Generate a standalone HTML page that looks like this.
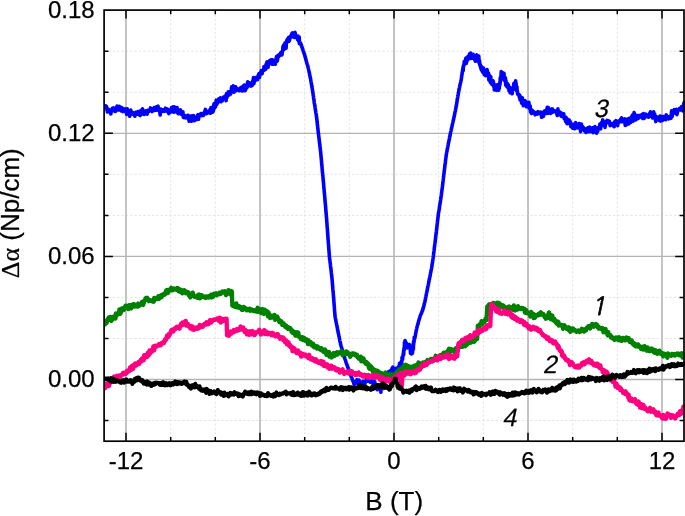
<!DOCTYPE html>
<html><head><meta charset="utf-8"><title>chart</title>
<style>html,body{margin:0;padding:0;background:#fff}body{width:685px;height:516px;overflow:hidden}svg{display:block}</style></head>
<body>
<svg width="685" height="516" viewBox="0 0 685 516">
<rect width="685" height="516" fill="#fff"/>
<path d="M170.7,10.1 V441.2 M215.3,10.1 V441.2 M304.7,10.1 V441.2 M349.3,10.1 V441.2 M438.7,10.1 V441.2 M483.3,10.1 V441.2 M572.7,10.1 V441.2 M617.3,10.1 V441.2 M104.1,420.5 H684.0 M104.1,338.5 H684.0 M104.1,297.4 H684.0 M104.1,215.4 H684.0 M104.1,174.3 H684.0 M104.1,92.3 H684.0 M104.1,51.2 H684.0" stroke="#dadada" stroke-width="0.75" stroke-dasharray="2.2 2.15" fill="none"/>
<path d="M126.0,10.1 V441.2 M260.0,10.1 V441.2 M394.0,10.1 V441.2 M528.0,10.1 V441.2 M662.0,10.1 V441.2" stroke="#c2c2c2" stroke-width="1.9" fill="none"/>
<path d="M104.1,379.5 H684.0 M104.1,256.4 H684.0 M104.1,133.3 H684.0" stroke="#b4b4b4" stroke-width="1.3" fill="none"/>
<clipPath id="c"><rect x="104" y="10" width="581" height="431"/></clipPath>
<g clip-path="url(#c)" fill="none" stroke-linejoin="round" stroke-linecap="round">
<path d="M104.4,106.4 L104.8,107.4 L105.2,106.7 L105.7,105.9 L106.1,107.2 L106.5,106.6 L106.9,109.1 L107.4,112.0 L107.8,108.8 L108.2,109.0 L108.6,111.6 L109.0,111.8 L109.5,111.7 L109.9,110.1 L110.3,112.3 L110.8,113.9 L111.4,109.7 L111.9,111.2 L112.5,108.2 L113.1,109.2 L113.6,107.9 L114.2,110.9 L114.8,108.7 L115.3,111.5 L115.9,111.1 L116.5,110.2 L117.0,106.0 L117.6,109.0 L118.1,109.8 L118.7,109.9 L119.2,106.4 L119.8,108.3 L120.4,107.1 L120.9,107.2 L121.4,111.0 L122.0,107.7 L122.5,109.5 L123.0,111.6 L123.5,109.0 L124.0,110.2 L124.6,110.9 L125.1,111.1 L125.6,108.9 L126.1,111.8 L126.7,114.4 L127.3,108.9 L127.9,113.7 L128.5,112.3 L129.1,110.9 L129.7,116.2 L130.3,113.9 L130.8,110.1 L131.4,112.7 L132.0,113.8 L132.6,112.5 L133.2,114.3 L133.8,113.0 L134.4,114.5 L134.9,116.2 L135.5,112.2 L136.1,114.0 L136.7,112.9 L137.3,114.2 L137.9,111.6 L138.4,112.7 L139.0,113.2 L139.6,115.2 L140.2,115.5 L140.7,110.5 L141.3,111.4 L141.9,114.0 L142.5,108.7 L143.1,111.5 L143.6,112.1 L144.2,114.5 L144.8,113.3 L145.4,111.1 L145.9,110.9 L146.5,111.0 L147.1,114.3 L147.7,110.3 L148.3,110.4 L148.8,111.5 L149.4,110.4 L149.9,110.0 L150.5,107.9 L151.0,109.8 L151.5,108.7 L152.1,111.6 L152.6,110.3 L153.2,108.7 L153.7,109.8 L154.2,107.6 L154.8,110.5 L155.3,108.7 L155.9,110.1 L156.4,106.7 L156.9,110.2 L157.5,106.5 L158.0,106.1 L158.5,109.7 L159.1,108.8 L159.6,111.1 L160.2,115.0 L160.8,109.0 L161.4,109.3 L162.0,110.8 L162.6,111.2 L163.2,109.8 L163.8,109.7 L164.4,111.3 L164.9,111.0 L165.5,108.2 L166.0,110.3 L166.6,110.8 L167.1,108.9 L167.7,111.7 L168.2,109.7 L168.8,113.6 L169.3,112.3 L169.9,112.3 L170.4,110.9 L171.0,111.5 L171.5,107.6 L172.1,109.1 L172.6,111.8 L173.2,106.7 L173.7,112.2 L174.3,106.9 L174.8,111.6 L175.4,108.3 L176.0,111.6 L176.5,110.6 L177.1,107.5 L177.7,113.1 L178.2,113.7 L178.8,111.0 L179.4,110.7 L179.9,111.2 L180.5,109.8 L180.9,114.2 L181.3,111.5 L181.7,112.9 L182.1,111.9 L182.5,112.7 L182.9,111.9 L183.3,117.3 L183.6,115.0 L184.0,117.6 L184.4,116.2 L184.8,115.3 L185.2,116.5 L185.6,116.5 L186.1,117.8 L186.7,117.2 L187.3,117.4 L187.9,115.3 L188.5,116.5 L189.1,121.3 L189.7,116.9 L190.3,116.2 L190.9,118.9 L191.4,121.2 L192.0,115.8 L192.6,118.4 L193.2,117.7 L193.7,115.7 L194.3,120.7 L194.9,119.4 L195.5,119.7 L195.9,117.7 L196.3,119.7 L196.8,117.3 L197.2,117.6 L197.6,115.3 L198.0,114.7 L198.5,119.3 L198.9,115.2 L199.3,116.4 L199.7,115.3 L200.2,114.2 L200.7,113.7 L201.2,115.7 L201.8,113.5 L202.3,113.5 L202.8,113.6 L203.3,115.5 L203.8,114.3 L204.4,113.4 L204.9,111.2 L205.4,109.4 L206.0,113.8 L206.6,113.6 L207.1,111.3 L207.7,112.4 L208.3,112.7 L208.9,112.6 L209.4,112.6 L210.0,109.7 L210.5,113.3 L211.0,107.6 L211.4,111.3 L211.9,110.2 L212.3,110.5 L212.8,112.1 L213.3,110.9 L213.7,105.4 L214.1,103.8 L214.4,108.3 L214.8,104.2 L215.2,105.7 L215.6,106.9 L216.0,101.6 L216.3,100.2 L216.7,104.4 L217.1,103.5 L217.5,102.5 L217.9,102.6 L218.3,100.5 L218.9,98.9 L219.4,101.3 L219.9,99.5 L220.5,97.9 L221.0,101.8 L221.6,100.4 L222.1,101.1 L222.6,98.0 L223.0,98.2 L223.5,97.2 L223.9,97.0 L224.3,98.7 L224.8,96.4 L225.2,98.2 L225.6,97.7 L226.1,100.6 L226.5,93.5 L226.9,97.6 L227.4,95.2 L227.8,95.0 L228.2,91.7 L228.6,93.2 L229.0,95.1 L229.4,93.1 L229.8,92.9 L230.2,91.8 L230.6,94.1 L231.1,91.4 L231.6,86.9 L232.1,89.5 L232.6,86.7 L233.1,85.9 L233.6,88.9 L234.1,92.2 L234.7,89.4 L235.2,86.7 L235.7,86.8 L236.2,90.6 L236.8,88.8 L237.3,88.7 L237.9,88.7 L238.5,89.1 L239.0,90.7 L239.6,90.4 L240.2,90.0 L240.8,87.6 L241.3,90.4 L241.8,87.8 L242.3,91.0 L242.9,86.1 L243.4,88.0 L243.9,88.0 L244.5,85.1 L245.0,90.8 L245.5,90.0 L246.1,86.0 L246.6,88.1 L247.1,87.1 L247.7,81.8 L248.2,86.3 L248.8,85.4 L249.3,85.5 L249.8,82.9 L250.4,84.2 L250.7,83.9 L251.1,86.1 L251.5,84.0 L251.9,82.9 L252.3,85.4 L252.7,80.9 L253.1,80.8 L253.5,77.5 L253.9,83.7 L254.2,82.0 L254.6,81.5 L255.0,80.6 L255.4,79.0 L255.8,78.8 L256.2,77.4 L256.6,77.1 L257.1,77.1 L257.5,79.6 L257.9,77.2 L258.3,75.6 L258.7,74.2 L259.1,73.6 L259.5,77.5 L259.9,75.0 L260.4,73.7 L260.8,72.5 L261.3,70.6 L261.7,72.2 L262.1,73.7 L262.6,70.8 L263.0,70.7 L263.4,70.3 L263.7,70.4 L264.0,66.5 L264.2,68.6 L264.5,66.9 L264.8,69.8 L265.1,66.0 L265.3,68.1 L265.6,69.4 L265.9,65.3 L266.1,64.2 L266.4,65.2 L266.7,64.3 L267.0,61.8 L267.5,64.4 L268.1,67.3 L268.6,62.6 L269.2,62.5 L269.7,60.6 L270.3,63.0 L270.8,59.8 L271.4,59.8 L272.0,64.2 L272.5,59.8 L273.1,63.4 L273.6,64.1 L274.2,61.4 L274.8,61.7 L275.3,64.3 L275.8,59.8 L276.2,58.5 L276.5,56.5 L276.9,58.8 L277.2,61.1 L277.6,59.6 L277.9,55.4 L278.3,55.1 L278.6,55.3 L279.0,56.3 L279.3,54.9 L279.7,55.2 L280.0,54.9 L280.4,53.2 L280.7,53.2 L281.0,53.2 L281.4,52.1 L281.7,52.8 L282.0,54.9 L282.3,52.0 L282.7,50.4 L283.0,46.5 L283.3,50.1 L283.7,45.0 L283.9,45.5 L284.2,49.4 L284.5,48.6 L284.7,46.3 L285.0,42.8 L285.3,44.8 L285.5,43.7 L285.8,45.7 L286.1,48.2 L286.3,43.8 L286.6,41.4 L286.9,40.1 L287.2,41.7 L287.5,41.0 L287.8,38.6 L288.1,40.5 L288.5,37.6 L288.8,41.5 L289.1,40.9 L289.5,40.4 L289.8,36.9 L290.1,38.3 L290.5,36.6 L290.9,35.7 L291.4,35.5 L292.0,33.3 L292.5,32.8 L293.0,36.8 L293.5,34.6 L294.0,35.6 L294.5,37.4 L295.0,32.4 L295.5,34.6 L296.0,36.8 L296.5,37.6 L297.0,36.4 L297.5,39.5 L297.8,38.4 L298.1,36.1 L298.4,37.2 L298.6,41.2 L298.9,41.0 L299.2,37.0 L299.4,43.8 L299.7,41.8 L300.0,42.5 L300.3,42.7 L300.5,43.3 L300.8,43.7 L301.1,44.8 L301.3,44.9 L301.4,45.9 L301.6,46.0 L301.8,46.7 L302.0,46.9 L302.2,47.7 L302.4,48.6 L302.6,48.7 L302.8,49.7 L303.0,50.2 L303.2,50.5 L303.3,51.1 L303.5,51.7 L303.7,52.4 L303.9,52.8 L304.1,53.4 L304.3,54.0 L304.5,54.5 L304.7,55.0 L304.8,55.8 L305.0,56.6 L305.2,56.7 L305.3,57.5 L305.5,58.0 L305.7,58.5 L305.8,59.4 L306.0,59.7 L306.1,60.7 L306.3,60.8 L306.5,61.7 L306.6,62.1 L306.8,62.6 L307.0,63.4 L307.1,63.9 L307.3,64.6 L307.5,65.0 L307.6,65.4 L307.8,66.2 L307.9,66.8 L308.1,67.5 L308.2,67.8 L308.4,68.5 L308.5,68.8 L308.6,69.8 L308.7,70.1 L308.9,70.5 L309.0,71.4 L309.1,72.3 L309.2,72.3 L309.4,73.0 L309.5,73.7 L309.6,74.2 L309.7,75.1 L309.8,75.4 L310.0,76.0 L310.1,76.9 L310.2,77.2 L310.3,78.0 L310.5,78.3 L310.6,78.9 L310.7,79.3 L310.8,80.6 L310.9,80.8 L311.0,81.5 L311.1,82.0 L311.2,82.7 L311.3,83.2 L311.4,84.2 L311.5,84.2 L311.6,84.7 L311.7,85.4 L311.8,85.9 L311.9,86.9 L312.0,87.5 L312.1,87.8 L312.2,88.3 L312.3,89.1 L312.4,90.0 L312.5,89.9 L312.6,91.0 L312.7,91.3 L312.8,92.3 L312.9,92.5 L313.0,93.2 L313.0,93.6 L313.1,94.3 L313.2,95.3 L313.3,95.8 L313.4,96.2 L313.5,96.7 L313.5,97.1 L313.6,98.0 L313.7,98.6 L313.8,99.2 L313.9,99.8 L314.0,100.2 L314.1,101.0 L314.1,101.6 L314.2,102.5 L314.3,103.2 L314.4,103.4 L314.5,103.8 L314.6,104.6 L314.7,105.1 L314.8,105.6 L314.9,106.3 L315.0,106.7 L315.1,107.7 L315.2,108.1 L315.2,108.8 L315.3,109.3 L315.4,109.8 L315.5,110.3 L315.6,111.1 L315.7,111.6 L315.8,112.3 L315.9,112.9 L316.0,113.2 L316.1,114.1 L316.2,114.4 L316.3,115.1 L316.3,115.8 L316.4,116.0 L316.5,117.1 L316.6,117.7 L316.7,118.2 L316.8,118.7 L316.8,119.3 L316.9,119.8 L317.0,120.6 L317.0,121.1 L317.1,121.8 L317.2,122.2 L317.2,123.0 L317.3,123.6 L317.4,124.2 L317.4,124.7 L317.5,125.5 L317.6,125.6 L317.6,126.7 L317.7,127.2 L317.8,127.8 L317.8,128.4 L317.9,128.8 L318.0,129.5 L318.0,130.3 L318.1,130.8 L318.2,131.4 L318.2,131.6 L318.3,132.6 L318.4,133.4 L318.5,133.9 L318.5,134.4 L318.6,134.6 L318.7,135.7 L318.7,136.1 L318.8,136.3 L318.9,137.4 L318.9,137.6 L319.0,138.2 L319.1,139.0 L319.2,139.9 L319.2,140.2 L319.3,140.9 L319.4,141.8 L319.4,142.4 L319.5,142.6 L319.6,143.2 L319.7,143.6 L319.7,144.3 L319.8,145.1 L319.9,145.7 L319.9,146.3 L320.0,147.0 L320.1,147.3 L320.2,148.0 L320.2,148.8 L320.3,149.3 L320.4,150.0 L320.4,150.5 L320.5,150.9 L320.6,151.7 L320.7,152.0 L320.7,152.5 L320.8,153.5 L320.8,154.0 L320.9,154.6 L320.9,154.9 L321.0,155.7 L321.0,156.3 L321.1,156.8 L321.1,157.1 L321.2,158.1 L321.3,158.9 L321.3,159.4 L321.4,159.8 L321.4,160.6 L321.5,161.3 L321.5,161.3 L321.6,162.3 L321.6,163.1 L321.7,163.7 L321.7,164.5 L321.8,165.0 L321.9,165.4 L321.9,166.0 L322.0,166.7 L322.0,167.0 L322.1,167.7 L322.1,168.5 L322.2,169.3 L322.2,169.5 L322.3,170.1 L322.3,170.8 L322.4,171.6 L322.4,171.9 L322.5,172.8 L322.6,172.9 L322.6,173.7 L322.7,174.3 L322.7,175.1 L322.8,175.7 L322.8,175.8 L322.9,176.5 L323.0,177.4 L323.0,177.8 L323.1,178.2 L323.1,179.3 L323.2,179.8 L323.2,180.4 L323.3,180.8 L323.4,181.7 L323.4,182.0 L323.5,182.9 L323.5,183.1 L323.6,183.7 L323.6,184.5 L323.7,184.9 L323.7,185.8 L323.8,186.3 L323.8,186.7 L323.9,187.5 L323.9,188.0 L324.0,188.8 L324.0,189.1 L324.1,189.8 L324.2,190.7 L324.2,191.5 L324.3,192.0 L324.3,192.2 L324.4,192.9 L324.4,193.7 L324.5,194.0 L324.5,194.4 L324.6,195.2 L324.6,195.9 L324.7,196.3 L324.7,196.7 L324.8,197.3 L324.8,198.3 L324.9,198.7 L324.9,199.4 L325.0,200.0 L325.0,200.7 L325.1,201.1 L325.1,201.9 L325.2,202.2 L325.2,202.9 L325.3,203.4 L325.4,204.4 L325.4,204.8 L325.5,205.2 L325.5,205.9 L325.6,206.5 L325.6,207.3 L325.7,207.5 L325.7,208.2 L325.8,208.9 L325.8,210.0 L325.9,210.4 L325.9,210.7 L326.0,211.5 L326.0,212.4 L326.1,212.5 L326.1,213.1 L326.2,214.0 L326.2,214.4 L326.3,215.1 L326.3,215.4 L326.4,216.5 L326.4,217.1 L326.5,217.5 L326.5,218.1 L326.6,218.1 L326.6,219.3 L326.7,219.7 L326.7,220.4 L326.7,221.1 L326.8,221.5 L326.8,221.8 L326.9,222.8 L326.9,223.2 L327.0,223.9 L327.0,224.4 L327.1,225.1 L327.1,225.3 L327.1,226.6 L327.2,227.0 L327.2,227.7 L327.3,228.5 L327.3,228.7 L327.4,229.0 L327.4,229.7 L327.5,230.3 L327.5,231.0 L327.5,231.7 L327.6,231.9 L327.6,233.0 L327.7,233.2 L327.7,234.2 L327.8,234.7 L327.8,235.2 L327.9,235.9 L327.9,236.4 L327.9,237.0 L328.0,237.4 L328.0,238.3 L328.1,239.2 L328.1,239.9 L328.2,240.3 L328.2,240.8 L328.3,241.1 L328.3,242.2 L328.3,242.5 L328.4,243.1 L328.4,243.6 L328.5,244.3 L328.5,244.8 L328.6,245.5 L328.6,245.9 L328.7,246.6 L328.7,247.7 L328.7,247.8 L328.8,248.4 L328.8,249.2 L328.9,249.8 L328.9,250.0 L329.0,250.8 L329.0,251.6 L329.1,252.1 L329.1,252.7 L329.2,253.6 L329.2,253.7 L329.2,254.5 L329.3,254.9 L329.3,255.9 L329.4,255.9 L329.4,256.7 L329.5,257.3 L329.6,258.2 L329.6,258.7 L329.7,259.5 L329.8,259.5 L329.9,260.6 L329.9,261.0 L330.0,261.5 L330.1,262.3 L330.1,262.6 L330.2,263.0 L330.3,263.9 L330.4,264.3 L330.4,265.1 L330.5,265.8 L330.6,266.4 L330.6,267.3 L330.7,267.5 L330.8,267.9 L330.9,268.6 L330.9,269.2 L331.0,269.7 L331.1,270.6 L331.1,271.0 L331.2,271.3 L331.3,272.5 L331.4,272.9 L331.4,273.6 L331.5,274.1 L331.6,274.8 L331.6,275.3 L331.7,276.1 L331.8,276.6 L331.9,277.2 L331.9,277.8 L332.0,278.0 L332.0,278.9 L332.1,279.4 L332.1,280.1 L332.2,280.4 L332.2,281.6 L332.3,281.9 L332.3,282.2 L332.4,282.7 L332.4,283.6 L332.5,284.3 L332.5,284.7 L332.6,285.5 L332.6,285.9 L332.7,286.8 L332.7,287.1 L332.8,287.8 L332.8,288.6 L332.9,289.5 L332.9,289.5 L333.0,290.2 L333.0,290.7 L333.1,291.6 L333.1,291.8 L333.2,292.5 L333.2,293.2 L333.3,293.6 L333.3,294.2 L333.4,294.9 L333.4,295.2 L333.5,295.9 L333.5,296.7 L333.6,297.5 L333.6,298.0 L333.7,298.3 L333.7,299.1 L333.8,300.0 L333.8,300.5 L333.9,301.0 L333.9,301.4 L333.9,302.3 L334.0,302.7 L334.0,303.2 L334.1,303.8 L334.1,304.9 L334.2,305.2 L334.2,306.0 L334.3,306.3 L334.3,307.2 L334.4,307.5 L334.4,308.2 L334.4,309.2 L334.5,309.5 L334.5,309.9 L334.6,310.6 L334.6,311.2 L334.7,312.0 L334.7,312.3 L334.8,312.6 L334.8,313.5 L334.9,314.2 L334.9,314.8 L335.0,315.6 L335.0,316.0 L335.1,316.7 L335.2,316.9 L335.3,317.9 L335.4,318.7 L335.6,319.1 L335.7,319.6 L335.8,320.1 L335.9,321.0 L336.0,321.1 L336.1,321.8 L336.2,322.5 L336.4,323.2 L336.5,323.5 L336.6,324.3 L336.7,324.8 L336.8,325.4 L336.9,326.0 L337.0,326.4 L337.2,327.2 L337.3,327.9 L337.4,328.2 L337.5,328.9 L337.6,329.7 L337.7,329.9 L337.8,330.7 L338.0,331.1 L338.1,332.1 L338.2,332.9 L338.3,333.4 L338.4,333.6 L338.6,334.4 L338.7,334.8 L338.8,335.4 L338.9,336.3 L339.1,336.3 L339.2,337.4 L339.3,337.7 L339.4,338.6 L339.5,339.0 L339.7,339.4 L339.8,340.2 L339.9,340.8 L340.0,341.3 L340.1,342.0 L340.3,342.4 L340.4,342.6 L340.5,343.8 L340.6,344.4 L340.8,344.8 L340.9,345.4 L341.1,346.2 L341.3,346.4 L341.4,347.0 L341.6,347.6 L341.8,348.5 L341.9,348.6 L342.1,349.6 L342.3,349.9 L342.5,350.3 L342.6,351.4 L342.8,351.7 L343.0,352.0 L343.1,352.8 L343.3,353.6 L343.5,354.2 L343.6,354.5 L343.8,355.2 L344.0,355.9 L344.2,356.2 L344.3,357.0 L344.5,357.5 L344.7,357.9 L344.8,358.5 L345.0,359.2 L345.2,359.8 L345.4,360.2 L345.6,360.8 L345.8,361.7 L346.0,362.1 L346.2,362.8 L346.4,363.4 L346.6,363.8 L346.8,364.7 L347.0,364.7 L347.2,365.6 L347.4,365.9 L347.6,366.9 L347.8,367.5 L348.0,367.3 L348.2,368.1 L348.4,369.0 L348.6,369.5 L348.8,370.1 L349.0,370.5 L349.2,371.2 L349.4,371.8 L349.5,372.2 L349.7,373.0 L349.9,372.9 L350.1,374.0 L350.4,374.3 L350.6,375.2 L350.8,375.5 L351.0,376.0 L351.3,376.8 L351.5,377.1 L351.7,377.6 L351.9,378.1 L352.2,378.9 L352.4,379.6 L352.6,380.2 L352.8,380.6 L353.1,381.4 L353.3,381.7 L353.5,382.3 L353.7,382.9 L354.2,384.9 L354.7,381.9 L355.3,381.9 L355.8,381.8 L356.4,382.0 L356.9,379.8 L357.5,383.3 L358.0,380.3 L358.5,382.1 L359.0,380.0 L359.5,382.6 L360.0,383.0 L360.5,381.8 L361.0,386.9 L361.5,383.7 L362.1,386.3 L362.7,384.6 L363.3,381.4 L363.9,381.9 L364.5,383.4 L365.1,382.4 L365.6,382.1 L366.1,381.1 L366.6,377.9 L367.1,380.7 L367.7,376.5 L368.2,381.2 L368.7,379.2 L369.2,379.5 L369.7,380.8 L370.2,382.1 L370.7,379.1 L371.3,378.8 L371.8,380.4 L372.3,378.8 L372.8,381.2 L373.3,386.5 L373.8,381.7 L374.3,385.3 L374.8,381.8 L375.3,385.4 L375.7,384.5 L376.2,385.4 L376.7,387.0 L377.2,389.7 L377.7,387.0 L378.1,387.2 L378.6,385.4 L379.1,388.8 L379.6,387.6 L380.0,390.0 L380.5,388.7 L380.9,392.2 L381.2,384.4 L381.5,387.2 L381.8,388.9 L382.1,386.0 L382.4,384.6 L382.7,385.1 L383.0,382.4 L383.3,384.8 L383.6,388.4 L383.9,385.8 L384.2,380.9 L384.5,380.8 L384.8,381.2 L385.0,383.4 L385.3,379.3 L385.6,379.0 L385.8,381.6 L386.1,381.0 L386.3,378.0 L386.6,376.0 L386.9,374.7 L387.1,375.8 L387.4,372.3 L387.7,377.5 L387.9,374.3 L388.2,375.9 L388.5,378.1 L388.7,376.2 L389.2,371.3 L389.6,374.8 L390.1,375.0 L390.6,370.9 L391.1,370.2 L391.5,371.4 L392.0,368.2 L392.5,373.8 L392.8,367.1 L393.2,369.7 L393.6,371.8 L393.9,372.3 L394.3,373.6 L394.7,374.3 L395.0,372.9 L395.3,375.1 L395.7,368.2 L396.0,371.9 L396.3,370.0 L396.6,371.1 L397.0,370.8 L397.3,368.1 L397.6,368.1 L397.9,370.4 L398.3,369.0 L398.6,366.5 L398.9,371.3 L399.2,371.1 L399.5,363.4 L399.8,366.4 L400.2,369.6 L400.5,366.3 L400.8,364.7 L401.1,363.3 L401.3,362.1 L401.4,362.2 L401.5,360.9 L401.7,362.9 L401.8,360.1 L401.9,359.4 L402.1,357.3 L402.2,359.0 L402.3,356.7 L402.4,357.5 L402.6,359.3 L402.7,357.4 L402.8,357.1 L402.9,356.2 L403.1,355.1 L403.2,354.1 L403.3,353.2 L403.5,354.7 L403.6,350.5 L403.7,354.6 L403.8,351.5 L403.9,349.4 L404.0,349.3 L404.0,348.3 L404.1,349.4 L404.2,347.1 L404.3,350.1 L404.4,345.8 L404.5,342.4 L404.6,344.7 L404.7,341.6 L404.8,344.8 L404.9,346.4 L405.0,345.0 L405.1,340.5 L405.2,341.1 L405.3,345.5 L405.8,343.1 L406.2,342.9 L406.6,345.3 L407.1,348.0 L407.5,346.7 L407.9,344.8 L408.3,345.7 L408.8,346.6 L409.1,344.7 L409.3,344.4 L409.5,347.1 L409.8,345.7 L410.0,348.0 L410.2,348.8 L410.5,353.5 L410.7,348.1 L410.9,350.1 L411.2,350.5 L411.4,352.3 L411.6,354.0 L411.9,351.6 L412.1,351.5 L412.3,350.2 L412.4,351.0 L412.5,353.2 L412.6,351.7 L412.7,349.0 L412.8,349.7 L412.8,349.9 L412.9,350.2 L413.0,347.5 L413.1,347.5 L413.2,343.9 L413.3,344.6 L413.4,349.4 L413.5,341.4 L413.5,344.4 L413.6,344.9 L413.7,343.1 L413.8,341.7 L413.9,342.6 L414.0,342.1 L414.1,341.3 L414.2,337.3 L414.3,340.0 L414.5,338.1 L414.6,339.0 L414.7,338.6 L414.8,338.1 L414.9,337.6 L415.0,336.7 L415.2,336.4 L415.3,335.8 L415.4,335.2 L415.5,334.7 L415.6,333.8 L415.7,333.2 L415.9,332.8 L416.0,331.8 L416.1,331.5 L416.2,330.8 L416.3,330.2 L416.5,329.4 L416.6,329.0 L416.7,328.6 L416.8,328.1 L416.9,327.6 L417.1,326.8 L417.3,326.2 L417.4,325.5 L417.6,325.1 L417.7,324.4 L417.9,324.0 L418.1,323.7 L418.2,322.8 L418.4,321.9 L418.6,321.4 L418.7,320.7 L418.9,320.2 L419.1,320.1 L419.2,319.3 L419.4,318.4 L419.5,318.3 L419.7,317.8 L419.9,316.9 L420.0,316.3 L420.2,315.8 L420.4,315.3 L420.7,314.9 L420.9,314.4 L421.1,313.9 L421.4,313.3 L421.6,312.8 L421.9,312.1 L422.1,311.1 L422.3,310.8 L422.6,310.4 L422.8,309.7 L422.9,309.4 L423.1,308.5 L423.2,307.8 L423.4,307.7 L423.5,307.0 L423.7,306.3 L423.9,305.9 L424.0,305.3 L424.2,304.6 L424.3,303.5 L424.5,303.3 L424.6,302.7 L424.8,302.0 L424.9,301.7 L425.0,301.3 L425.1,300.4 L425.2,299.6 L425.4,299.7 L425.5,298.6 L425.6,297.9 L425.7,297.6 L425.8,297.0 L425.9,296.2 L426.1,295.9 L426.2,295.1 L426.3,294.4 L426.4,294.0 L426.5,293.5 L426.6,292.7 L426.8,292.3 L426.9,291.6 L427.0,291.5 L427.1,290.3 L427.2,290.1 L427.4,289.3 L427.5,288.7 L427.6,288.2 L427.7,287.7 L427.8,287.2 L427.9,286.4 L428.1,285.6 L428.2,285.0 L428.3,284.7 L428.4,284.1 L428.5,283.7 L428.6,282.9 L428.8,282.4 L428.9,281.9 L429.0,281.1 L429.1,280.2 L429.2,279.6 L429.3,279.0 L429.5,279.0 L429.6,277.9 L429.7,277.7 L429.8,277.0 L429.9,276.7 L430.1,275.9 L430.2,275.1 L430.3,274.5 L430.4,274.0 L430.5,273.4 L430.6,272.7 L430.8,272.2 L430.9,271.9 L431.0,270.7 L431.1,270.5 L431.2,269.7 L431.3,269.3 L431.5,268.8 L431.6,268.1 L431.7,267.6 L431.8,266.6 L431.9,266.5 L432.0,265.6 L432.0,265.2 L432.1,264.6 L432.2,263.5 L432.3,263.2 L432.4,262.8 L432.5,262.5 L432.6,261.6 L432.7,261.0 L432.7,260.1 L432.8,260.1 L432.9,259.5 L433.0,258.6 L433.1,258.0 L433.2,257.1 L433.3,257.0 L433.3,256.6 L433.4,255.8 L433.5,255.3 L433.6,254.5 L433.6,253.6 L433.7,253.5 L433.8,252.4 L433.9,252.0 L433.9,251.5 L434.0,251.0 L434.1,250.3 L434.2,249.7 L434.2,248.9 L434.3,248.2 L434.4,247.9 L434.4,247.1 L434.5,246.4 L434.6,245.8 L434.7,245.4 L434.7,244.5 L434.8,244.0 L434.9,243.4 L435.0,243.1 L435.0,242.6 L435.1,242.3 L435.2,241.0 L435.3,240.6 L435.3,240.3 L435.4,239.5 L435.5,238.9 L435.5,238.7 L435.6,237.7 L435.7,236.9 L435.8,236.3 L435.8,236.0 L435.9,235.4 L436.0,234.5 L436.1,234.0 L436.1,233.7 L436.2,233.1 L436.3,232.3 L436.3,231.9 L436.4,231.3 L436.5,230.3 L436.5,229.9 L436.6,229.5 L436.7,228.7 L436.7,227.8 L436.8,227.6 L436.9,227.2 L436.9,226.7 L437.0,225.4 L437.1,225.7 L437.1,224.4 L437.2,224.2 L437.3,223.7 L437.3,223.0 L437.4,222.3 L437.5,221.4 L437.6,221.2 L437.6,220.3 L437.7,219.4 L437.8,219.7 L437.8,218.8 L437.9,218.4 L438.0,217.3 L438.0,217.2 L438.1,216.6 L438.2,216.0 L438.2,215.1 L438.3,214.3 L438.4,213.9 L438.5,212.9 L438.6,212.4 L438.7,212.2 L438.8,211.4 L438.9,210.9 L439.0,210.3 L439.1,210.1 L439.2,209.4 L439.3,208.6 L439.4,208.2 L439.4,207.2 L439.5,206.7 L439.6,206.4 L439.7,205.4 L439.8,205.0 L439.9,204.2 L440.0,203.9 L440.1,203.6 L440.2,202.5 L440.3,202.1 L440.4,201.3 L440.5,200.6 L440.6,200.0 L440.6,200.0 L440.7,199.5 L440.8,198.6 L440.9,197.8 L441.0,197.4 L441.1,196.6 L441.1,196.3 L441.2,195.6 L441.3,195.0 L441.4,194.5 L441.5,193.6 L441.6,193.1 L441.6,192.2 L441.7,191.9 L441.8,191.1 L441.9,190.7 L442.0,190.0 L442.0,189.6 L442.1,189.1 L442.2,188.1 L442.3,187.6 L442.3,187.0 L442.4,186.7 L442.5,186.3 L442.5,185.6 L442.6,184.7 L442.7,184.5 L442.8,183.3 L442.8,183.3 L442.9,182.3 L443.0,181.4 L443.0,181.7 L443.1,181.0 L443.2,179.8 L443.2,179.5 L443.3,178.8 L443.4,178.3 L443.5,177.4 L443.5,176.9 L443.6,176.6 L443.7,175.9 L443.7,175.5 L443.8,174.7 L443.9,174.5 L444.0,173.4 L444.0,172.9 L444.1,171.9 L444.2,171.5 L444.3,171.4 L444.3,170.3 L444.4,170.0 L444.5,169.3 L444.6,168.5 L444.6,168.1 L444.7,167.4 L444.8,166.8 L444.8,166.5 L444.9,165.9 L445.0,165.0 L445.1,164.4 L445.1,164.0 L445.2,163.3 L445.3,163.0 L445.4,162.6 L445.4,161.7 L445.5,161.0 L445.6,160.4 L445.7,159.6 L445.7,159.0 L445.8,158.4 L445.9,157.9 L446.0,157.3 L446.0,157.0 L446.1,156.1 L446.2,155.6 L446.2,154.8 L446.3,154.8 L446.4,153.9 L446.5,153.6 L446.6,152.8 L446.7,152.4 L446.9,151.4 L447.0,151.0 L447.1,150.7 L447.2,149.5 L447.3,149.4 L447.4,148.9 L447.5,148.0 L447.7,147.5 L447.8,147.0 L447.9,146.1 L448.0,145.7 L448.1,144.8 L448.2,144.3 L448.3,143.7 L448.5,143.2 L448.6,142.7 L448.7,142.2 L448.8,141.2 L448.9,141.3 L449.0,140.5 L449.2,139.9 L449.3,139.0 L449.4,138.5 L449.5,138.0 L449.6,137.4 L449.7,136.4 L449.8,136.3 L450.0,136.0 L450.1,134.6 L450.2,134.6 L450.3,133.9 L450.4,133.2 L450.5,132.9 L450.7,131.8 L450.8,131.5 L450.9,131.2 L451.1,130.3 L451.2,129.6 L451.3,129.2 L451.5,128.5 L451.6,128.3 L451.7,127.2 L451.9,127.0 L452.0,126.0 L452.1,125.8 L452.3,125.0 L452.4,124.0 L452.5,123.9 L452.7,123.1 L452.8,122.6 L452.9,122.4 L453.1,121.3 L453.2,120.7 L453.3,120.6 L453.4,119.8 L453.6,119.5 L453.7,118.7 L453.8,117.8 L453.9,117.4 L454.1,117.1 L454.2,116.4 L454.3,115.7 L454.4,115.1 L454.6,114.5 L454.7,113.8 L454.8,113.7 L454.9,112.7 L455.0,111.9 L455.2,111.4 L455.3,111.1 L455.4,110.5 L455.5,109.8 L455.7,109.1 L455.8,108.6 L455.9,107.7 L456.0,107.2 L456.1,107.0 L456.2,106.2 L456.3,105.7 L456.4,105.3 L456.5,104.6 L456.6,103.9 L456.7,103.7 L456.8,102.8 L456.9,102.0 L457.0,101.7 L457.1,101.0 L457.2,100.2 L457.3,99.7 L457.4,99.1 L457.5,98.2 L457.6,97.9 L457.7,97.3 L457.8,96.7 L457.9,95.9 L458.0,95.5 L458.1,95.0 L458.2,94.4 L458.3,93.6 L458.4,93.3 L458.5,92.4 L458.6,92.0 L458.7,91.7 L458.8,90.7 L458.9,90.2 L459.0,89.9 L459.2,89.0 L459.3,88.4 L459.4,88.0 L459.5,87.5 L459.7,86.3 L459.8,86.0 L459.9,85.4 L460.0,84.8 L460.2,84.2 L460.3,83.6 L460.4,83.3 L460.5,82.5 L460.7,82.1 L460.8,81.5 L460.9,80.7 L461.0,80.3 L461.2,80.0 L461.3,79.2 L461.4,78.4 L461.5,77.9 L461.5,77.2 L461.6,76.8 L461.7,76.3 L461.8,75.4 L461.9,74.9 L462.0,74.6 L462.1,73.7 L462.2,73.2 L462.3,72.4 L462.4,71.8 L462.4,71.3 L462.5,71.2 L462.6,70.1 L462.7,69.5 L462.8,68.9 L462.9,68.4 L463.0,68.0 L463.1,67.6 L463.2,70.7 L463.2,66.5 L463.3,68.3 L463.5,65.4 L463.9,65.6 L464.3,61.2 L464.7,63.3 L465.1,63.0 L465.5,62.2 L465.9,58.0 L466.3,63.5 L466.7,60.6 L467.0,59.9 L467.2,59.8 L467.5,59.3 L467.8,60.0 L468.0,56.2 L468.3,56.3 L468.6,58.1 L468.8,57.3 L469.1,55.8 L469.4,54.8 L469.6,53.8 L469.9,54.8 L470.2,56.9 L470.6,53.0 L471.0,58.5 L471.5,57.6 L471.9,55.5 L472.3,58.3 L472.7,54.4 L473.1,54.3 L473.4,55.7 L473.8,57.9 L474.1,58.5 L474.5,58.6 L474.9,60.3 L475.2,56.4 L475.5,61.3 L475.8,57.0 L476.0,57.9 L476.3,57.9 L476.5,55.9 L476.8,54.9 L477.0,55.1 L477.3,56.5 L477.5,57.8 L477.7,58.3 L478.0,55.8 L478.2,56.8 L478.4,57.1 L478.6,60.3 L478.8,56.1 L479.0,63.0 L479.2,60.2 L479.4,60.2 L479.7,62.9 L479.8,64.9 L480.0,64.1 L480.2,66.0 L480.4,64.8 L480.6,67.5 L480.8,68.1 L481.0,66.1 L481.2,69.6 L481.3,67.7 L481.5,68.1 L481.7,66.7 L481.9,68.5 L482.1,71.2 L482.3,67.7 L482.6,72.0 L482.9,72.0 L483.2,72.3 L483.5,68.0 L483.8,72.6 L484.2,74.6 L484.5,72.3 L484.8,74.5 L485.2,70.3 L485.6,75.6 L486.1,72.6 L486.6,75.3 L487.1,69.6 L487.6,74.3 L487.9,73.0 L488.1,75.6 L488.3,72.8 L488.6,73.9 L488.8,80.0 L489.1,74.6 L489.3,75.4 L489.6,76.8 L489.8,75.9 L490.0,80.7 L490.3,82.3 L490.5,78.1 L490.8,76.7 L491.0,82.9 L491.3,83.3 L491.6,83.2 L492.0,84.4 L492.3,80.9 L492.7,82.8 L493.0,80.9 L493.3,81.3 L493.7,86.5 L494.0,83.8 L494.3,89.9 L494.7,86.2 L495.3,85.0 L495.8,88.1 L496.4,90.2 L496.9,87.9 L497.5,84.8 L498.0,88.1 L498.6,90.3 L499.0,86.7 L499.1,85.5 L499.3,88.4 L499.4,86.1 L499.5,83.1 L499.6,84.0 L499.7,82.6 L499.8,84.1 L499.9,83.1 L500.0,84.6 L500.1,83.1 L500.2,78.1 L500.4,81.4 L500.5,81.7 L500.6,80.3 L500.7,80.8 L500.8,77.1 L500.9,75.8 L501.0,78.8 L501.1,74.4 L501.2,71.6 L501.4,77.3 L501.5,73.3 L501.8,74.2 L502.2,72.5 L502.7,73.1 L503.1,73.8 L503.5,75.8 L503.7,77.8 L504.0,73.3 L504.2,79.6 L504.4,76.4 L504.7,77.2 L504.9,81.1 L505.2,80.2 L505.4,77.9 L505.7,85.1 L505.9,80.3 L506.2,83.0 L506.4,83.5 L506.7,86.4 L506.9,83.3 L507.2,86.7 L507.6,83.7 L507.9,87.8 L508.3,84.7 L508.7,85.9 L509.0,90.8 L509.4,88.2 L509.7,88.3 L510.1,92.8 L510.4,89.7 L510.8,87.9 L511.2,91.4 L511.5,88.2 L511.9,93.2 L512.2,93.7 L512.4,89.7 L512.7,89.0 L512.9,90.0 L513.1,89.1 L513.3,86.7 L513.5,89.1 L513.8,83.5 L514.0,86.0 L514.2,85.5 L514.4,85.2 L514.6,85.8 L514.9,82.3 L515.1,85.2 L515.3,83.2 L515.5,81.8 L515.6,80.9 L515.8,81.9 L515.9,85.5 L516.1,83.5 L516.2,86.1 L516.4,88.6 L516.5,89.1 L516.6,90.7 L516.8,87.7 L516.9,86.7 L517.1,91.4 L517.2,90.6 L517.4,92.8 L517.5,91.2 L517.6,94.1 L517.8,94.0 L517.9,94.3 L518.2,94.5 L518.5,94.8 L518.8,95.0 L519.1,95.5 L519.4,97.5 L519.7,95.1 L520.0,100.0 L520.3,96.9 L520.6,99.5 L520.9,97.9 L521.3,98.1 L521.6,103.1 L521.9,99.1 L522.2,97.7 L522.5,99.3 L522.8,100.6 L523.3,105.7 L523.8,102.2 L524.3,103.9 L524.9,100.5 L525.4,103.4 L525.9,104.3 L526.4,106.8 L526.9,102.3 L527.4,105.2 L527.7,105.1 L528.0,103.1 L528.3,105.5 L528.6,105.6 L528.9,102.3 L529.2,108.3 L529.6,108.7 L529.9,107.3 L530.2,106.0 L530.5,112.0 L530.8,110.2 L531.1,112.2 L531.4,113.4 L531.9,110.0 L532.5,112.9 L533.0,111.1 L533.5,111.7 L534.1,111.9 L534.6,112.3 L535.2,114.8 L535.7,113.1 L536.2,112.8 L536.8,112.8 L537.4,114.1 L538.0,111.7 L538.6,112.4 L539.2,113.3 L539.8,112.3 L540.4,113.2 L541.0,112.2 L541.6,117.3 L542.1,115.9 L542.6,113.8 L543.1,112.4 L543.5,116.4 L544.0,112.4 L544.4,111.2 L544.9,111.6 L545.4,111.2 L545.8,113.0 L546.3,109.8 L546.8,113.5 L547.2,107.4 L547.7,110.6 L548.3,107.5 L548.8,113.3 L549.3,109.4 L549.9,110.2 L550.4,112.4 L550.9,113.3 L551.5,109.0 L552.0,110.7 L552.5,109.0 L553.1,112.1 L553.7,111.7 L554.3,111.3 L554.9,110.8 L555.5,111.4 L556.1,110.8 L556.7,113.4 L557.3,115.5 L557.9,108.9 L558.4,112.7 L558.9,112.5 L559.4,114.6 L559.9,112.1 L560.4,114.0 L560.9,112.6 L561.4,116.3 L561.9,115.4 L562.4,115.2 L562.9,116.6 L563.3,115.8 L563.7,113.7 L564.1,118.4 L564.5,118.2 L564.9,117.8 L565.3,120.5 L565.6,121.4 L566.0,117.4 L566.4,118.4 L566.8,123.4 L567.2,123.6 L567.6,119.9 L568.0,119.5 L568.4,121.0 L568.8,121.7 L569.2,120.0 L569.6,123.6 L570.1,121.5 L570.5,122.0 L570.9,126.6 L571.3,123.9 L571.7,125.5 L572.2,127.3 L572.6,128.1 L573.1,125.7 L573.6,126.1 L574.1,124.1 L574.6,128.8 L575.1,126.4 L575.6,122.6 L576.2,124.5 L576.7,125.6 L577.2,124.9 L577.6,128.0 L578.0,127.5 L578.4,124.2 L578.9,125.5 L579.3,123.6 L579.7,127.0 L580.1,127.2 L580.6,131.6 L581.0,128.0 L581.4,124.1 L581.9,127.2 L582.4,129.1 L582.9,126.7 L583.4,127.8 L583.9,129.1 L584.4,130.8 L584.9,130.1 L585.5,129.0 L586.0,132.5 L586.6,129.8 L587.2,129.8 L587.8,127.9 L588.3,129.0 L588.9,131.7 L589.5,127.1 L590.1,130.0 L590.7,131.5 L591.3,129.3 L591.9,130.5 L592.5,127.8 L593.1,132.6 L593.7,132.1 L594.3,130.5 L594.9,126.6 L595.5,128.0 L596.1,131.9 L596.6,133.2 L597.1,130.0 L597.6,131.5 L598.1,127.5 L598.5,128.0 L599.0,128.0 L599.4,128.4 L599.8,124.1 L600.2,128.5 L600.6,128.8 L601.0,123.5 L601.5,122.7 L601.9,125.6 L602.3,123.2 L602.7,119.8 L603.3,125.5 L603.9,124.0 L604.4,122.6 L605.0,127.4 L605.6,123.3 L606.1,121.4 L606.7,122.8 L607.2,120.4 L607.8,120.7 L608.4,122.8 L608.9,121.0 L609.5,121.4 L610.1,125.6 L610.7,124.2 L611.3,124.2 L611.9,123.7 L612.5,123.8 L613.1,125.8 L613.6,123.0 L614.2,126.8 L614.8,121.5 L615.4,122.9 L616.0,120.7 L616.5,122.5 L617.1,124.0 L617.7,125.6 L618.2,121.2 L618.8,122.3 L619.4,121.4 L619.9,120.5 L620.5,119.4 L621.0,121.6 L621.6,117.9 L622.2,121.6 L622.8,121.5 L623.4,120.2 L624.0,119.6 L624.6,119.0 L625.2,125.4 L625.8,119.2 L626.4,124.9 L627.0,123.1 L627.5,121.1 L627.9,119.1 L628.3,123.0 L628.8,123.9 L629.2,118.3 L629.6,119.1 L630.1,121.4 L630.5,119.5 L630.9,122.4 L631.4,116.9 L631.8,118.7 L632.4,115.0 L632.9,121.3 L633.5,115.6 L634.1,112.5 L634.6,116.4 L635.2,116.1 L635.7,119.9 L636.3,115.3 L636.9,115.7 L637.4,116.7 L638.0,118.6 L638.6,115.5 L639.2,117.7 L639.8,116.8 L640.4,115.3 L641.0,116.1 L641.6,116.0 L642.2,114.3 L642.8,118.5 L643.4,113.5 L644.0,118.4 L644.6,117.8 L645.1,115.7 L645.7,114.2 L646.3,115.2 L646.9,116.4 L647.5,116.8 L648.1,115.8 L648.7,117.1 L649.3,113.9 L649.8,115.3 L650.4,111.7 L651.0,116.3 L651.5,115.4 L652.1,114.6 L652.6,117.9 L653.1,117.3 L653.7,111.9 L654.2,116.6 L654.7,113.9 L655.3,119.1 L655.8,121.6 L656.3,116.6 L656.9,117.9 L657.5,117.3 L658.1,118.5 L658.7,119.2 L659.3,120.5 L659.9,116.1 L660.5,121.1 L661.1,116.3 L661.7,118.7 L662.3,120.5 L662.9,119.7 L663.5,116.5 L664.0,116.9 L664.6,117.1 L665.1,117.7 L665.7,119.7 L666.2,114.7 L666.7,117.9 L667.3,117.9 L667.8,117.5 L668.3,117.1 L668.9,118.9 L669.4,116.6 L670.0,117.0 L670.5,116.2 L671.0,118.3 L671.6,110.9 L672.1,116.8 L672.6,113.5 L673.2,113.2 L673.7,111.6 L674.3,109.6 L674.8,112.2 L675.3,111.3 L675.9,113.4 L676.4,109.3 L676.9,114.7 L677.5,112.1 L678.0,110.8 L678.5,109.7 L679.1,109.2 L679.6,108.3 L680.1,109.2 L680.7,110.0 L681.2,109.4 L681.6,106.5 L682.0,108.3 L682.3,106.5 L682.6,108.1 L683.0,110.9 L683.3,108.0 L683.6,105.7 L684.0,102.6 L684.3,102.5" stroke="#0000ff" stroke-width="3.6"/>
<path d="M104.4,322.1 L104.8,324.5 L105.2,322.3 L105.6,322.8 L105.9,321.5 L106.3,321.9 L106.7,323.0 L107.1,320.0 L107.5,320.0 L107.9,319.0 L108.2,320.5 L108.6,317.8 L109.1,317.4 L109.7,317.0 L110.3,316.9 L110.9,319.0 L111.5,321.0 L112.1,317.0 L112.7,319.3 L113.3,318.3 L113.8,316.6 L114.3,317.2 L114.7,316.8 L115.1,315.8 L115.5,318.5 L115.9,313.5 L116.3,315.8 L116.7,315.2 L117.0,313.7 L117.4,314.1 L117.8,314.5 L118.2,313.2 L118.6,313.1 L119.0,313.0 L119.4,309.3 L119.9,313.1 L120.4,313.7 L120.9,311.9 L121.4,311.6 L121.9,308.3 L122.4,309.6 L122.9,308.4 L123.4,308.3 L123.9,309.9 L124.4,307.4 L125.0,308.0 L125.5,305.6 L126.1,307.5 L126.6,307.6 L127.2,306.4 L127.8,306.1 L128.3,309.1 L128.9,305.1 L129.4,305.1 L130.0,305.2 L130.6,307.4 L131.2,308.4 L131.7,306.1 L132.3,304.7 L132.9,304.9 L133.5,306.5 L134.0,304.0 L134.6,306.6 L135.2,306.5 L135.8,304.9 L136.4,305.6 L137.0,305.7 L137.6,306.7 L138.2,303.5 L138.8,306.2 L139.4,304.3 L140.0,303.9 L140.6,304.9 L141.2,304.5 L141.6,303.1 L142.0,302.0 L142.4,302.3 L142.8,304.7 L143.2,304.9 L143.5,302.8 L143.9,303.0 L144.3,300.5 L144.7,300.6 L145.1,300.6 L145.5,298.5 L145.9,298.1 L146.3,299.0 L146.8,298.5 L147.3,297.9 L147.8,299.9 L148.4,299.4 L148.9,301.2 L149.5,300.2 L150.0,300.1 L150.5,300.9 L151.1,300.8 L151.6,300.5 L152.1,300.6 L152.7,301.6 L153.2,301.2 L153.7,301.7 L154.2,297.8 L154.7,299.1 L155.3,298.8 L155.8,299.2 L156.3,298.1 L156.8,297.7 L157.3,299.0 L157.9,298.0 L158.4,296.1 L158.9,298.8 L159.5,298.2 L160.0,296.0 L160.6,297.4 L161.1,295.3 L161.6,297.2 L162.2,295.4 L162.7,294.4 L163.2,294.6 L163.8,293.9 L164.3,294.8 L164.8,294.5 L165.3,293.9 L165.8,292.8 L166.2,290.5 L166.7,292.8 L167.1,290.0 L167.6,292.2 L168.0,292.9 L168.5,291.5 L168.9,290.3 L169.4,290.2 L169.9,289.8 L170.3,288.9 L170.8,288.5 L171.3,287.9 L171.9,290.4 L172.5,288.9 L173.1,290.0 L173.7,288.6 L174.3,288.9 L174.9,288.6 L175.5,289.3 L176.1,289.7 L176.7,289.0 L177.3,288.0 L177.8,288.1 L178.4,291.2 L178.9,289.1 L179.5,289.3 L180.1,291.7 L180.6,291.4 L181.2,291.0 L181.7,290.1 L182.3,293.4 L182.8,291.6 L183.3,292.0 L183.9,291.4 L184.4,290.2 L184.9,290.6 L185.5,293.0 L186.0,293.3 L186.5,292.8 L187.0,292.0 L187.6,291.9 L188.1,293.6 L188.6,292.5 L189.1,295.6 L189.7,296.1 L190.3,297.4 L190.9,296.0 L191.5,294.3 L192.1,294.1 L192.7,292.6 L193.3,294.7 L193.8,295.3 L194.4,296.8 L195.0,296.5 L195.6,296.5 L196.2,296.2 L196.8,296.8 L197.4,297.8 L198.0,294.9 L198.6,295.7 L199.2,294.6 L199.8,298.3 L200.4,298.0 L201.0,297.4 L201.6,295.1 L202.2,296.8 L202.8,296.4 L203.4,296.8 L204.0,296.6 L204.6,297.5 L205.1,296.4 L205.7,297.9 L206.3,297.1 L206.9,296.4 L207.5,296.6 L208.1,296.2 L208.7,297.6 L209.3,296.3 L209.9,296.9 L210.5,296.0 L211.1,294.7 L211.7,297.5 L212.3,295.0 L212.9,296.9 L213.4,296.3 L214.0,293.6 L214.5,294.2 L215.1,294.5 L215.6,293.9 L216.2,293.2 L216.7,295.3 L217.3,293.9 L217.9,294.5 L218.4,293.4 L219.0,294.1 L219.6,292.6 L220.2,293.3 L220.7,293.9 L221.3,293.1 L221.9,292.3 L222.5,291.4 L223.0,292.7 L223.6,292.7 L224.2,291.9 L224.8,291.4 L225.4,293.0 L226.0,295.1 L226.6,292.2 L227.2,293.0 L227.8,293.2 L228.4,290.1 L229.0,293.0 L229.5,291.9 L230.1,294.2 L230.6,291.9 L231.1,291.0 L231.7,291.4 L231.9,292.2 L231.9,291.9 L231.9,293.1 L232.0,292.1 L232.0,294.1 L232.0,295.9 L232.0,297.9 L232.0,297.0 L232.0,297.1 L232.1,298.8 L232.1,299.2 L232.1,300.5 L232.1,300.5 L232.1,299.6 L232.1,300.7 L232.2,301.2 L232.2,301.9 L232.2,302.4 L232.2,301.8 L232.2,300.8 L232.3,303.1 L232.3,302.1 L232.3,305.2 L232.3,305.7 L232.9,303.5 L233.5,306.3 L234.1,306.3 L234.7,305.3 L235.3,307.0 L235.9,307.1 L236.4,303.5 L236.9,306.5 L237.3,306.2 L237.8,306.6 L238.2,307.6 L238.7,306.0 L239.2,306.5 L239.6,306.6 L240.1,307.1 L240.5,308.3 L241.0,307.0 L241.5,307.9 L242.0,309.9 L242.6,309.1 L243.2,309.7 L243.8,306.9 L244.4,308.3 L245.0,308.5 L245.6,309.2 L246.2,308.5 L246.8,310.3 L247.4,309.1 L248.0,309.2 L248.6,309.2 L249.2,310.1 L249.8,308.8 L250.4,310.8 L251.0,310.0 L251.6,309.7 L252.2,309.7 L252.8,310.3 L253.4,311.0 L254.0,311.0 L254.6,310.3 L255.2,311.0 L255.8,310.2 L256.4,311.6 L257.0,310.2 L257.6,307.8 L258.2,311.9 L258.8,310.5 L259.4,309.1 L260.0,310.3 L260.6,309.6 L261.2,313.2 L261.8,311.4 L262.4,309.0 L262.9,311.7 L263.4,310.9 L263.9,314.0 L264.4,310.8 L264.9,309.7 L265.4,312.8 L265.9,312.6 L266.5,312.8 L267.0,311.1 L267.5,314.5 L268.0,316.3 L268.5,312.3 L269.0,316.3 L269.5,314.6 L270.1,318.1 L270.6,316.2 L271.2,315.7 L271.7,317.4 L272.3,316.9 L272.9,315.8 L273.4,317.6 L274.0,316.3 L274.6,315.0 L275.1,319.8 L275.7,317.1 L276.2,317.0 L276.8,318.5 L277.2,316.6 L277.6,317.3 L278.0,318.7 L278.5,319.1 L278.9,320.3 L279.3,322.0 L279.7,320.5 L280.2,322.0 L280.6,322.6 L281.0,321.0 L281.4,323.0 L281.9,322.0 L282.3,324.9 L282.7,324.5 L283.1,324.4 L283.5,323.2 L284.0,325.3 L284.6,324.6 L285.1,326.7 L285.6,326.0 L286.1,325.5 L286.6,327.9 L287.1,328.0 L287.6,326.7 L288.1,329.1 L288.6,327.7 L289.1,328.0 L289.6,328.8 L290.1,328.1 L290.6,328.8 L291.1,329.5 L291.6,331.9 L292.1,332.2 L292.6,330.5 L293.0,333.1 L293.5,331.5 L294.0,332.3 L294.5,333.3 L295.0,332.9 L295.4,335.6 L295.9,333.6 L296.4,332.2 L296.9,335.6 L297.3,333.9 L297.8,334.4 L298.3,332.5 L298.8,336.7 L299.3,336.8 L299.8,337.2 L300.2,337.7 L300.7,338.9 L301.2,337.2 L301.7,338.8 L302.2,337.1 L302.6,337.9 L303.1,340.0 L303.6,339.5 L304.1,337.8 L304.6,340.2 L305.1,339.9 L305.6,339.4 L306.1,341.3 L306.6,340.6 L307.1,339.5 L307.6,340.4 L308.1,344.1 L308.6,340.5 L309.1,342.9 L309.7,343.7 L310.2,344.1 L310.7,342.1 L311.2,343.6 L311.7,344.4 L312.2,345.5 L312.7,344.1 L313.2,343.8 L313.7,346.7 L314.2,347.2 L314.7,346.6 L315.2,345.8 L315.8,347.3 L316.3,347.3 L316.8,348.5 L317.3,346.3 L317.8,348.2 L318.3,348.2 L318.8,347.4 L319.4,349.2 L319.9,349.2 L320.5,348.9 L321.0,350.1 L321.6,348.2 L322.1,350.1 L322.7,350.9 L323.2,350.9 L323.8,352.1 L324.3,349.6 L324.9,349.5 L325.4,351.9 L325.9,352.5 L326.4,354.8 L326.9,353.3 L327.4,351.8 L328.0,354.1 L328.5,352.5 L329.0,352.0 L329.5,356.7 L330.0,354.8 L330.6,355.6 L331.1,355.7 L331.6,357.5 L332.1,355.7 L332.6,356.6 L333.2,353.6 L333.7,352.9 L334.3,356.0 L334.8,355.8 L335.3,354.4 L335.9,353.8 L336.4,353.5 L337.0,352.2 L337.5,354.6 L338.0,353.3 L338.6,352.8 L339.1,352.4 L339.7,353.3 L340.3,352.7 L340.9,353.1 L341.5,351.0 L342.0,353.1 L342.6,355.2 L343.2,352.1 L343.8,352.7 L344.4,354.0 L345.0,354.2 L345.6,354.0 L346.2,351.4 L346.7,354.0 L347.3,352.1 L347.9,352.7 L348.5,354.4 L349.1,353.5 L349.7,355.0 L350.3,356.8 L350.9,355.2 L351.5,355.2 L352.1,353.4 L352.6,353.8 L353.2,353.4 L353.8,354.2 L354.4,353.8 L354.9,354.6 L355.4,355.4 L356.0,354.7 L356.5,354.5 L357.0,354.8 L357.6,357.3 L358.1,357.1 L358.6,358.5 L359.2,358.8 L359.7,357.4 L360.2,358.9 L360.8,356.6 L361.3,361.3 L361.7,360.5 L362.2,359.2 L362.6,358.5 L363.1,360.7 L363.5,358.4 L364.0,360.1 L364.4,362.4 L364.9,361.9 L365.3,361.7 L365.8,363.8 L366.2,361.8 L366.7,363.8 L367.1,363.3 L367.6,363.2 L368.0,365.2 L368.4,363.9 L368.8,367.8 L369.2,365.3 L369.6,368.8 L370.0,365.5 L370.4,368.0 L370.8,366.3 L371.2,366.6 L371.6,368.8 L372.0,369.9 L372.4,368.0 L372.8,371.4 L373.2,369.5 L373.6,371.1 L374.0,371.8 L374.5,372.4 L375.0,369.8 L375.6,374.1 L376.2,373.0 L376.7,372.0 L377.3,371.5 L377.8,370.9 L378.4,371.5 L379.0,374.0 L379.5,373.2 L380.1,372.4 L380.7,373.2 L381.3,375.8 L381.9,373.6 L382.5,373.4 L383.1,375.8 L383.7,374.8 L384.3,374.4 L384.9,373.6 L385.5,372.6 L386.0,373.2 L386.6,374.3 L387.1,374.8 L387.6,375.8 L388.2,376.3 L388.7,376.2 L389.3,376.4 L389.8,375.2 L390.3,374.1 L390.9,375.9 L391.5,375.2 L392.0,375.4 L392.6,375.6 L393.2,374.3 L393.8,374.3 L394.3,375.3 L394.8,375.3 L395.3,373.9 L395.7,374.9 L396.1,373.5 L396.5,372.1 L396.9,373.0 L397.3,374.7 L397.7,371.2 L398.1,373.0 L398.5,372.8 L398.9,372.5 L399.3,369.3 L399.8,372.3 L400.3,369.7 L400.7,368.9 L401.2,368.5 L401.7,369.1 L402.1,368.1 L402.6,367.5 L403.1,368.8 L403.6,366.1 L404.0,365.3 L404.5,367.1 L405.0,366.6 L405.4,367.1 L405.9,364.8 L406.5,367.7 L407.0,367.3 L407.5,369.2 L408.0,365.9 L408.5,368.0 L409.0,367.7 L409.5,366.4 L410.0,367.4 L410.6,369.4 L411.2,367.2 L411.7,366.7 L412.3,368.4 L412.9,368.4 L413.4,368.1 L414.0,365.8 L414.5,366.5 L415.1,367.6 L415.7,365.3 L416.2,365.0 L416.8,366.7 L417.4,367.4 L417.9,364.0 L418.5,362.5 L419.1,363.2 L419.7,363.6 L420.2,364.4 L420.8,365.2 L421.4,364.1 L421.9,363.2 L422.5,364.0 L423.1,362.5 L423.6,363.4 L424.2,362.5 L424.8,365.7 L425.3,363.8 L425.9,361.6 L426.4,361.2 L427.0,361.7 L427.6,360.0 L428.1,360.9 L428.7,360.6 L429.2,362.4 L429.8,360.6 L430.3,359.9 L430.9,359.0 L431.5,359.0 L432.0,360.1 L432.5,359.6 L433.1,361.0 L433.6,358.6 L434.1,360.3 L434.7,359.1 L435.2,358.5 L435.7,355.8 L436.3,356.4 L436.8,358.6 L437.4,359.1 L437.9,357.4 L438.4,357.8 L439.0,356.1 L439.5,355.9 L440.0,355.2 L440.5,356.8 L441.0,355.8 L441.5,354.8 L442.0,354.4 L442.6,355.1 L443.1,354.5 L443.6,352.8 L444.1,355.6 L444.6,353.5 L445.1,352.9 L445.6,354.4 L446.2,353.5 L446.7,352.0 L447.3,352.6 L447.9,350.5 L448.5,350.8 L449.0,348.8 L449.6,352.7 L450.2,348.8 L450.8,351.7 L451.3,349.7 L451.9,349.4 L452.5,350.1 L453.1,350.5 L453.6,350.7 L454.2,351.9 L454.7,349.9 L455.2,350.3 L455.8,348.2 L456.3,349.6 L456.9,348.6 L457.4,347.6 L457.9,347.8 L458.4,347.5 L459.0,347.5 L459.5,347.4 L460.0,346.0 L460.5,345.4 L461.0,346.9 L461.5,343.6 L462.0,344.6 L462.5,346.9 L463.0,342.0 L463.5,343.5 L464.1,344.9 L464.6,341.9 L465.2,346.3 L465.7,340.8 L466.3,345.0 L466.8,344.9 L467.4,343.9 L468.0,342.3 L468.5,342.8 L469.1,341.0 L469.6,342.9 L470.2,340.3 L470.7,341.1 L471.3,342.5 L471.9,339.8 L472.5,340.5 L473.1,341.0 L473.6,339.0 L474.2,341.9 L474.8,340.7 L475.4,338.3 L475.9,339.9 L476.5,338.9 L477.0,338.8 L477.0,339.1 L477.1,337.5 L477.1,339.0 L477.2,336.4 L477.2,337.8 L477.2,335.9 L477.3,336.4 L477.3,334.2 L477.4,333.6 L477.4,332.2 L477.4,333.7 L477.5,333.5 L477.5,334.4 L477.6,332.8 L477.6,330.9 L477.6,329.8 L477.7,329.9 L477.7,328.8 L477.8,330.0 L477.8,328.7 L477.8,326.0 L477.9,325.6 L478.2,327.6 L478.7,326.0 L479.2,325.0 L479.7,326.3 L480.1,324.1 L480.6,323.9 L481.1,323.3 L481.6,321.1 L482.1,324.2 L482.6,321.3 L483.1,321.8 L483.6,321.2 L484.0,322.6 L484.5,321.3 L485.0,321.1 L485.5,318.7 L486.0,320.3 L486.4,318.2 L486.5,319.7 L486.5,319.2 L486.5,318.2 L486.6,320.0 L486.6,317.6 L486.7,317.1 L486.7,316.0 L486.8,315.0 L486.8,315.7 L486.8,315.3 L486.9,311.8 L486.9,314.1 L487.0,312.8 L487.0,312.7 L487.1,311.6 L487.1,308.9 L487.2,308.4 L487.2,311.4 L487.2,308.9 L487.3,306.3 L487.7,308.0 L488.2,306.9 L488.7,304.9 L489.3,304.2 L489.8,304.7 L490.4,306.6 L490.9,306.0 L491.5,305.6 L492.0,306.1 L492.6,306.3 L493.2,302.9 L493.8,304.9 L494.4,304.1 L494.9,303.4 L495.5,304.1 L496.1,304.5 L496.7,304.1 L497.3,302.6 L497.8,304.0 L498.4,307.2 L498.9,303.8 L499.5,303.2 L500.0,305.8 L500.6,306.5 L501.1,306.5 L501.7,304.9 L502.2,307.6 L502.8,305.7 L503.3,305.5 L503.9,306.3 L504.5,307.1 L505.1,308.2 L505.7,308.3 L506.2,307.6 L506.8,308.9 L507.4,308.1 L508.0,309.2 L508.6,306.6 L509.1,306.5 L509.7,309.5 L510.3,307.0 L510.9,308.2 L511.5,308.4 L512.1,307.8 L512.7,307.7 L513.3,309.8 L513.8,305.4 L514.4,309.0 L515.0,310.5 L515.6,307.7 L516.2,307.6 L516.8,308.4 L517.4,309.6 L518.0,306.1 L518.6,307.8 L519.1,307.6 L519.7,308.7 L520.3,308.3 L520.9,309.1 L521.5,307.9 L522.0,308.6 L522.6,307.9 L523.1,308.3 L523.6,309.3 L524.0,309.7 L524.5,308.8 L524.9,312.5 L525.4,310.9 L525.9,309.7 L526.3,313.1 L526.8,311.3 L527.3,313.2 L527.7,312.9 L528.2,313.5 L528.8,313.6 L529.3,313.0 L529.9,314.0 L530.4,316.6 L531.0,311.8 L531.5,314.7 L532.1,315.4 L532.7,313.8 L533.2,313.7 L533.8,318.2 L534.3,315.1 L534.8,317.8 L535.4,315.7 L535.9,314.9 L536.5,315.2 L537.0,315.1 L537.6,315.5 L538.1,314.4 L538.7,313.8 L539.2,313.6 L539.8,314.8 L540.3,314.1 L540.8,312.3 L541.3,313.1 L541.8,314.5 L542.3,313.7 L542.8,314.4 L543.3,314.0 L543.8,315.2 L544.3,316.3 L544.8,317.4 L545.3,316.5 L545.8,318.7 L546.4,315.9 L546.9,318.4 L547.5,316.7 L548.0,315.8 L548.5,314.3 L549.0,312.4 L549.4,315.2 L549.9,316.1 L550.3,318.6 L550.7,315.0 L551.2,319.4 L551.6,317.2 L552.0,318.8 L552.4,315.7 L552.9,319.0 L553.3,318.8 L553.7,320.5 L554.2,320.2 L554.6,319.1 L555.1,322.0 L555.5,322.1 L556.0,322.3 L556.5,323.2 L556.9,323.7 L557.4,322.7 L557.8,321.5 L558.3,321.9 L558.7,325.6 L559.2,325.2 L559.7,324.7 L560.3,324.4 L560.8,325.2 L561.3,325.4 L561.9,325.3 L562.4,325.1 L563.0,328.8 L563.5,326.7 L564.0,326.0 L564.6,325.4 L565.1,326.4 L565.6,328.4 L566.2,328.7 L566.7,327.8 L567.3,328.3 L567.9,328.0 L568.5,327.2 L569.0,330.3 L569.6,329.4 L570.2,331.8 L570.7,328.4 L571.3,329.3 L571.9,330.8 L572.4,329.6 L573.0,328.4 L573.6,329.1 L574.2,330.4 L574.8,330.8 L575.4,330.3 L576.0,331.7 L576.6,331.8 L577.2,331.1 L577.8,330.8 L578.4,330.5 L579.0,331.6 L579.5,332.1 L580.1,331.1 L580.7,331.5 L581.3,330.4 L581.8,328.8 L582.4,329.1 L582.9,331.0 L583.5,330.4 L584.1,331.5 L584.6,329.5 L585.2,330.2 L585.7,330.5 L586.3,329.9 L586.8,327.8 L587.4,328.0 L587.9,328.0 L588.3,326.3 L588.8,327.7 L589.3,328.0 L589.8,325.9 L590.3,328.5 L590.8,325.4 L591.3,325.2 L591.8,324.8 L592.2,323.9 L592.7,324.9 L593.3,324.6 L593.9,326.8 L594.4,325.8 L595.0,325.9 L595.6,325.2 L596.1,324.0 L596.7,325.8 L597.2,325.1 L597.8,327.5 L598.4,326.5 L598.9,328.7 L599.4,327.9 L600.0,328.3 L600.5,327.9 L601.0,328.2 L601.5,329.1 L602.0,329.7 L602.5,328.0 L603.0,329.8 L603.5,332.2 L604.1,329.7 L604.6,329.9 L605.1,329.6 L605.6,329.1 L606.0,332.6 L606.5,331.7 L606.9,332.3 L607.4,334.6 L607.8,335.4 L608.3,332.1 L608.7,334.8 L609.2,334.7 L609.6,334.9 L610.1,335.4 L610.5,335.2 L611.0,337.5 L611.4,336.7 L611.9,336.8 L612.4,338.2 L612.9,338.0 L613.4,337.8 L614.0,337.9 L614.5,339.9 L615.1,338.6 L615.6,338.2 L616.1,337.5 L616.7,338.4 L617.2,337.8 L617.7,339.5 L618.3,340.0 L618.9,337.2 L619.5,339.6 L620.1,340.3 L620.7,339.7 L621.2,338.3 L621.8,340.9 L622.4,338.5 L623.0,337.8 L623.6,337.9 L624.2,339.1 L624.8,340.2 L625.4,340.4 L626.0,339.2 L626.6,337.5 L627.1,338.5 L627.6,338.5 L628.1,339.7 L628.6,338.1 L629.2,340.7 L629.7,341.7 L630.2,341.0 L630.7,342.1 L631.2,340.7 L631.7,340.4 L632.2,341.7 L632.7,344.2 L633.2,344.3 L633.7,342.9 L634.2,345.2 L634.8,343.7 L635.3,346.2 L635.8,345.3 L636.3,344.5 L636.8,346.3 L637.3,344.7 L637.8,344.8 L638.3,344.5 L638.8,346.9 L639.3,346.8 L639.9,347.0 L640.5,346.7 L641.1,349.1 L641.7,347.0 L642.3,346.8 L642.8,349.3 L643.4,349.6 L644.0,348.5 L644.6,346.1 L645.2,347.6 L645.7,349.2 L646.3,348.7 L646.9,350.7 L647.5,347.4 L648.0,350.0 L648.6,348.6 L649.2,351.1 L649.8,349.6 L650.3,351.1 L650.9,349.3 L651.5,348.5 L652.1,349.0 L652.6,349.8 L653.2,349.5 L653.8,352.3 L654.4,352.7 L654.9,351.6 L655.5,350.3 L656.0,351.6 L656.6,351.1 L657.2,353.9 L657.7,352.8 L658.3,353.2 L658.9,352.3 L659.4,350.6 L660.0,352.3 L660.5,352.1 L661.1,354.1 L661.7,354.0 L662.2,353.1 L662.8,353.8 L663.3,356.4 L663.9,353.6 L664.5,353.8 L665.0,354.9 L665.6,354.5 L666.1,355.1 L666.7,356.4 L667.3,357.7 L667.9,353.4 L668.5,355.3 L669.0,355.3 L669.6,355.0 L670.2,354.7 L670.8,354.4 L671.4,355.8 L671.9,353.9 L672.5,354.2 L673.1,354.2 L673.7,354.4 L674.3,354.1 L674.9,355.6 L675.5,354.5 L676.1,354.8 L676.7,354.6 L677.3,353.5 L677.9,353.8 L678.5,353.6 L679.1,355.2 L679.7,354.2 L680.3,353.8 L680.8,355.5 L681.4,355.9 L682.0,353.3 L682.6,357.5 L683.2,355.6 L683.8,355.6 L684.4,357.1" stroke="#008000" stroke-width="4.3"/>
<path d="M104.4,386.5 L104.9,385.4 L105.4,388.1 L105.9,384.2 L106.4,385.0 L106.9,385.7 L107.5,383.3 L108.0,384.1 L108.5,384.4 L109.0,386.0 L109.4,382.1 L109.8,382.6 L110.2,382.9 L110.5,381.8 L110.9,380.0 L111.3,381.3 L111.7,380.5 L112.1,380.4 L112.5,380.7 L112.9,380.1 L113.3,379.0 L113.7,378.4 L114.1,376.5 L114.6,377.3 L115.2,377.5 L115.8,376.7 L116.3,377.0 L116.9,375.8 L117.5,378.2 L118.1,378.7 L118.6,375.7 L119.2,376.4 L119.7,375.4 L120.3,376.8 L120.8,375.6 L121.3,375.0 L121.9,374.4 L122.4,374.5 L123.0,373.0 L123.5,374.5 L124.0,372.8 L124.6,373.9 L125.1,373.1 L125.6,373.9 L126.2,372.4 L126.7,373.2 L127.1,370.7 L127.6,372.1 L128.1,370.8 L128.6,370.9 L129.0,370.4 L129.5,370.9 L130.0,367.3 L130.5,369.5 L130.9,367.2 L131.4,369.8 L131.9,365.9 L132.4,366.6 L132.8,365.5 L133.3,368.8 L133.8,365.2 L134.2,366.3 L134.7,365.2 L135.1,363.4 L135.6,364.7 L136.1,365.4 L136.5,364.0 L137.0,364.9 L137.4,363.1 L137.9,363.1 L138.3,362.3 L138.8,362.7 L139.2,364.0 L139.7,361.9 L140.2,361.3 L140.6,360.0 L141.1,359.5 L141.5,361.5 L142.0,358.3 L142.4,358.1 L142.9,358.6 L143.3,357.9 L143.8,360.1 L144.2,355.2 L144.7,357.6 L145.1,357.6 L145.6,355.2 L146.0,355.3 L146.5,356.1 L147.0,357.0 L147.4,353.8 L147.8,352.6 L148.2,355.0 L148.7,355.2 L149.1,352.7 L149.5,350.3 L149.9,353.9 L150.4,351.6 L150.8,352.6 L151.2,350.9 L151.6,350.1 L152.1,349.6 L152.5,351.3 L152.9,350.9 L153.3,346.5 L153.8,347.4 L154.2,350.0 L154.7,347.3 L155.2,345.8 L155.7,347.0 L156.2,346.6 L156.7,346.3 L157.2,345.5 L157.7,345.4 L158.2,344.9 L158.7,345.5 L159.3,343.9 L159.8,344.1 L160.3,344.0 L160.8,345.3 L161.3,343.9 L161.7,343.0 L162.2,343.3 L162.6,342.7 L163.0,343.0 L163.5,342.0 L163.9,343.0 L164.3,342.1 L164.8,340.1 L165.2,339.3 L165.6,340.3 L166.0,339.5 L166.4,338.4 L166.8,336.4 L167.1,335.5 L167.5,337.4 L167.9,337.4 L168.2,336.9 L168.6,334.2 L168.9,336.2 L169.3,334.0 L169.7,334.6 L170.0,334.1 L170.5,332.4 L170.9,332.2 L171.3,330.1 L171.7,331.0 L172.2,329.6 L172.6,331.6 L173.0,330.8 L173.4,331.3 L173.9,330.2 L174.3,328.7 L174.7,329.4 L175.1,328.1 L175.6,328.9 L176.2,328.4 L176.7,326.7 L177.3,327.6 L177.8,327.4 L178.4,326.8 L179.0,327.9 L179.5,328.5 L180.1,326.0 L180.6,325.8 L181.2,323.5 L181.7,325.5 L182.1,324.8 L182.6,322.5 L183.0,324.8 L183.5,324.7 L183.9,322.9 L184.4,322.9 L184.8,321.8 L185.3,323.3 L185.7,320.9 L186.1,322.7 L186.5,325.6 L186.9,324.0 L187.3,324.9 L187.7,324.7 L188.1,324.0 L188.5,325.7 L188.9,326.6 L189.2,325.5 L189.8,327.3 L190.3,328.6 L190.8,328.6 L191.4,326.0 L191.9,326.9 L192.5,326.5 L193.0,329.7 L193.5,329.5 L194.1,329.8 L194.6,328.3 L195.2,327.8 L195.7,329.0 L196.3,328.8 L196.9,327.5 L197.4,328.4 L198.0,328.7 L198.6,328.1 L199.1,326.5 L199.7,325.1 L200.2,326.9 L200.8,327.2 L201.4,326.5 L201.9,326.0 L202.4,325.4 L202.9,326.7 L203.4,325.5 L203.9,325.4 L204.4,323.8 L205.0,323.9 L205.5,324.5 L206.0,322.8 L206.5,322.2 L207.0,323.0 L207.5,324.3 L208.0,322.9 L208.5,324.0 L209.0,321.9 L209.6,321.5 L210.1,320.0 L210.6,320.6 L211.2,322.6 L211.7,321.1 L212.2,321.2 L212.8,320.9 L213.3,319.9 L213.8,319.4 L214.4,319.5 L214.9,319.8 L215.5,319.3 L216.0,319.5 L216.6,319.3 L217.2,318.4 L217.8,319.2 L218.3,318.6 L218.9,320.9 L219.5,317.6 L220.1,319.8 L220.7,322.6 L221.3,319.7 L221.8,318.6 L222.4,319.7 L223.0,321.0 L223.6,319.3 L224.2,320.0 L224.8,319.3 L225.3,318.7 L225.9,321.4 L226.5,318.9 L226.6,318.7 L226.6,319.4 L226.6,320.9 L226.7,321.6 L226.7,322.6 L226.7,322.5 L226.7,321.3 L226.7,324.1 L226.7,323.8 L226.7,324.4 L226.8,323.7 L226.8,325.3 L226.8,325.7 L226.8,327.1 L226.8,326.1 L226.8,328.4 L226.9,329.1 L226.9,328.3 L226.9,329.4 L226.9,329.8 L226.9,332.3 L226.9,329.5 L226.9,332.1 L227.0,331.3 L227.0,333.2 L227.0,335.3 L227.3,333.8 L227.8,334.4 L228.4,333.0 L228.9,335.8 L229.5,334.5 L230.0,334.4 L230.6,331.5 L231.1,331.5 L231.6,333.6 L232.2,332.0 L232.7,331.6 L233.3,332.0 L233.8,330.0 L234.3,332.0 L234.9,330.9 L235.4,331.1 L236.0,329.6 L236.5,330.6 L237.0,329.0 L237.6,330.6 L238.1,330.5 L238.7,330.2 L239.3,329.6 L239.9,329.6 L240.5,326.4 L241.1,329.6 L241.6,328.3 L242.2,328.5 L242.7,328.4 L243.2,327.5 L243.7,328.9 L244.1,330.6 L244.6,331.8 L245.0,329.9 L245.5,330.0 L246.0,333.0 L246.4,330.8 L246.9,334.4 L247.4,332.6 L247.9,331.8 L248.5,333.9 L249.1,334.7 L249.7,331.2 L250.3,334.5 L250.9,332.5 L251.5,334.4 L252.1,332.4 L252.7,331.1 L253.3,333.4 L253.9,333.8 L254.5,335.0 L255.0,334.6 L255.6,333.4 L256.2,332.3 L256.8,331.9 L257.4,332.1 L258.0,331.5 L258.6,332.0 L259.2,329.8 L259.8,332.4 L260.4,332.1 L261.0,334.5 L261.6,332.8 L262.2,331.4 L262.8,332.6 L263.4,330.8 L264.0,331.6 L264.6,330.3 L265.1,334.1 L265.7,333.4 L266.3,331.6 L266.9,332.9 L267.5,334.2 L268.0,333.8 L268.6,333.9 L269.2,332.7 L269.8,333.0 L270.4,333.9 L271.0,334.9 L271.6,333.0 L272.2,332.8 L272.8,335.4 L273.4,333.2 L274.0,335.4 L274.6,334.6 L275.2,335.4 L275.7,336.4 L276.3,335.3 L276.9,335.6 L277.4,334.0 L278.0,334.5 L278.5,336.3 L279.1,337.5 L279.6,337.6 L280.1,338.8 L280.7,337.0 L281.2,337.1 L281.7,338.3 L282.1,337.6 L282.5,338.0 L282.9,337.4 L283.3,340.1 L283.7,338.2 L284.1,340.4 L284.5,338.8 L284.9,342.0 L285.3,340.1 L285.7,342.6 L286.1,340.4 L286.5,342.1 L286.9,344.3 L287.3,342.6 L287.7,344.0 L288.1,343.8 L288.6,342.3 L289.0,345.5 L289.4,346.1 L289.8,344.8 L290.3,347.1 L290.7,346.0 L291.1,346.2 L291.5,347.7 L292.0,347.4 L292.4,351.0 L292.8,347.3 L293.2,350.2 L293.7,350.9 L294.1,348.1 L294.6,348.7 L295.1,351.5 L295.6,350.7 L296.1,352.0 L296.6,353.1 L297.1,351.8 L297.6,351.3 L298.1,350.4 L298.6,353.4 L299.2,352.5 L299.7,354.1 L300.2,354.4 L300.7,352.9 L301.2,356.6 L301.8,356.1 L302.4,356.0 L302.9,353.9 L303.5,354.9 L304.1,354.9 L304.7,355.2 L305.3,354.5 L305.9,356.4 L306.4,356.3 L307.0,356.6 L307.6,355.8 L308.2,358.0 L308.7,357.1 L309.2,354.8 L309.7,356.8 L310.2,357.7 L310.7,359.2 L311.2,358.1 L311.8,358.5 L312.3,358.3 L312.8,360.1 L313.3,359.2 L313.8,359.3 L314.3,359.5 L314.8,361.2 L315.4,360.3 L315.9,359.2 L316.5,361.9 L317.1,360.5 L317.7,361.9 L318.3,362.0 L318.9,363.1 L319.4,363.1 L320.0,361.4 L320.6,362.0 L321.2,360.9 L321.8,364.4 L322.3,363.3 L322.7,364.7 L323.1,363.3 L323.6,361.8 L324.0,366.1 L324.4,365.0 L325.0,365.3 L325.5,365.4 L326.1,366.3 L326.6,366.4 L327.2,364.3 L327.7,367.5 L328.3,365.9 L328.8,366.2 L329.4,368.9 L330.0,368.2 L330.5,367.1 L331.1,365.6 L331.6,368.1 L332.2,368.7 L332.8,368.2 L333.3,367.0 L333.9,367.7 L334.5,367.4 L335.1,369.2 L335.7,370.0 L336.2,370.4 L336.8,368.6 L337.4,369.8 L338.0,370.4 L338.5,369.3 L339.1,369.9 L339.7,372.6 L340.3,370.6 L340.8,371.6 L341.4,370.3 L342.0,371.0 L342.6,369.2 L343.1,371.3 L343.7,372.8 L344.3,373.9 L344.9,373.1 L345.4,372.7 L346.0,372.2 L346.6,371.7 L347.2,372.2 L347.8,373.1 L348.4,371.6 L349.0,373.6 L349.6,371.6 L350.2,370.7 L350.8,371.7 L351.4,371.0 L352.0,371.4 L352.6,374.2 L353.2,372.8 L353.8,373.3 L354.3,374.5 L354.9,374.7 L355.5,372.9 L356.1,375.0 L356.7,374.1 L357.3,373.8 L357.9,374.4 L358.5,372.4 L359.1,373.2 L359.7,374.1 L360.2,375.0 L360.8,374.0 L361.4,374.4 L362.0,375.8 L362.6,376.4 L363.2,375.8 L363.8,376.4 L364.4,374.7 L364.9,375.0 L365.5,375.8 L366.1,375.2 L366.7,375.1 L367.3,377.6 L367.9,375.7 L368.5,374.9 L369.1,376.5 L369.7,378.0 L370.3,376.1 L370.9,377.4 L371.5,375.5 L372.1,375.5 L372.7,375.2 L373.3,375.8 L373.9,378.0 L374.5,374.7 L375.1,377.8 L375.7,374.9 L376.2,376.0 L376.8,377.4 L377.4,377.4 L377.9,377.2 L378.5,375.3 L379.0,377.7 L379.6,376.4 L380.2,380.2 L380.7,377.8 L381.3,378.4 L381.8,377.2 L382.4,378.1 L382.9,377.5 L383.5,380.1 L384.1,379.0 L384.6,380.1 L385.2,378.9 L385.8,379.3 L386.4,381.4 L386.9,379.1 L387.5,378.4 L388.1,381.0 L388.6,379.5 L389.2,380.5 L389.8,382.0 L390.3,379.8 L390.8,381.4 L391.4,379.4 L391.9,381.6 L392.4,381.1 L393.0,378.9 L393.5,378.9 L394.0,377.9 L394.6,378.7 L395.1,379.5 L395.6,376.3 L396.1,378.6 L396.6,375.8 L397.1,376.0 L397.6,374.7 L398.2,378.7 L398.7,376.1 L399.2,376.0 L399.7,374.7 L400.2,376.3 L400.5,373.0 L400.6,375.9 L400.6,378.9 L400.7,376.7 L400.7,377.7 L400.8,379.0 L400.9,378.0 L400.9,379.5 L401.0,381.1 L401.0,380.9 L401.1,381.7 L401.1,381.5 L401.2,382.8 L401.2,383.1 L401.3,385.3 L401.3,385.1 L401.4,384.6 L401.5,383.0 L401.5,386.8 L401.6,387.5 L401.6,385.7 L401.7,383.9 L401.7,384.3 L401.8,386.0 L401.8,383.2 L401.8,383.2 L401.9,383.4 L401.9,383.9 L402.0,381.9 L402.0,381.2 L402.1,380.2 L402.1,382.0 L402.2,380.7 L402.2,378.9 L402.3,376.8 L402.3,376.9 L402.4,377.8 L402.4,375.8 L402.4,376.9 L402.5,375.8 L402.5,375.1 L402.6,374.9 L403.0,374.4 L403.5,372.6 L404.1,373.0 L404.6,375.5 L405.2,371.5 L405.8,372.3 L406.4,374.0 L407.0,372.6 L407.6,371.9 L408.2,371.3 L408.8,373.4 L409.4,373.9 L410.0,374.3 L410.6,372.9 L411.2,373.9 L411.8,371.7 L412.4,373.0 L412.9,371.9 L413.5,372.6 L414.1,373.0 L414.6,373.2 L415.2,370.7 L415.8,373.0 L416.3,370.9 L416.9,370.0 L417.4,370.8 L418.0,369.1 L418.5,370.5 L418.9,370.4 L419.4,369.4 L419.8,369.8 L420.2,368.4 L420.6,368.3 L421.1,366.3 L421.5,367.5 L421.9,366.1 L422.3,366.1 L422.7,366.1 L423.2,366.0 L423.6,363.5 L424.0,363.2 L424.5,364.2 L425.0,364.8 L425.6,364.4 L426.1,364.7 L426.6,364.9 L427.2,363.8 L427.7,362.9 L428.3,361.6 L428.8,361.4 L429.3,361.7 L429.9,362.2 L430.4,361.9 L430.9,361.4 L431.5,360.9 L432.0,361.5 L432.6,360.8 L433.1,360.6 L433.6,360.4 L434.2,359.2 L434.7,358.3 L435.2,359.7 L435.8,359.4 L436.3,358.4 L436.8,357.9 L437.4,360.5 L437.9,357.0 L438.4,357.3 L439.0,357.7 L439.6,356.0 L440.2,357.3 L440.8,359.0 L441.4,357.9 L441.9,357.5 L442.5,357.3 L443.1,356.7 L443.7,357.5 L444.3,356.2 L444.9,355.8 L445.5,356.2 L446.1,357.0 L446.7,356.5 L447.3,357.0 L447.8,354.1 L448.4,357.8 L449.0,359.0 L449.6,358.1 L450.2,356.4 L450.8,356.0 L451.4,357.3 L452.0,356.0 L452.6,358.0 L453.2,356.8 L453.7,358.4 L454.3,358.7 L454.9,354.9 L455.5,357.3 L456.1,356.1 L456.7,355.2 L457.0,355.7 L457.1,355.6 L457.2,356.4 L457.2,353.0 L457.3,355.2 L457.4,355.7 L457.4,353.5 L457.5,352.8 L457.6,351.6 L457.6,349.8 L457.7,351.0 L457.8,350.3 L457.9,350.1 L457.9,351.1 L458.0,348.9 L458.1,347.9 L458.1,348.6 L458.2,344.8 L458.3,344.4 L458.3,344.7 L458.4,343.8 L458.5,344.7 L458.7,343.1 L459.2,345.0 L459.7,344.4 L460.2,343.2 L460.7,341.6 L461.2,342.3 L461.7,342.2 L462.2,339.8 L462.6,341.0 L463.1,341.0 L463.6,340.1 L464.1,341.4 L464.7,340.7 L465.2,338.2 L465.8,339.0 L466.3,337.6 L466.8,338.9 L467.4,337.1 L467.9,338.8 L468.5,337.9 L469.0,338.3 L469.5,336.8 L470.1,335.1 L470.6,338.4 L471.1,336.0 L471.6,337.3 L472.2,336.0 L472.7,335.9 L473.2,336.9 L473.7,334.9 L474.2,335.8 L474.7,332.3 L475.2,334.6 L475.7,333.0 L476.2,332.8 L476.7,332.7 L477.3,332.7 L477.8,333.9 L478.3,329.8 L478.9,331.6 L479.4,330.5 L479.9,332.3 L480.5,330.3 L481.0,331.0 L481.6,329.8 L482.1,330.7 L482.6,330.8 L483.2,329.0 L483.7,329.2 L484.2,327.3 L484.8,328.9 L485.3,329.3 L485.9,327.5 L486.4,329.0 L486.9,325.3 L487.5,325.2 L488.0,325.5 L488.5,326.2 L489.0,326.4 L489.5,325.9 L490.0,325.6 L490.3,326.0 L490.3,324.1 L490.4,322.7 L490.4,322.1 L490.4,325.2 L490.4,319.8 L490.4,321.4 L490.5,322.6 L490.5,321.0 L490.5,318.9 L490.5,319.2 L490.6,319.6 L490.6,319.4 L490.6,316.5 L490.6,317.7 L490.6,316.5 L490.7,316.9 L490.7,316.6 L490.7,314.1 L490.7,312.2 L490.8,313.7 L490.8,314.6 L490.8,312.8 L490.8,311.7 L490.9,313.3 L490.9,309.1 L490.9,310.6 L490.9,308.4 L490.9,308.5 L491.0,307.9 L491.0,308.9 L491.1,305.6 L491.4,305.6 L491.7,303.9 L492.0,305.6 L492.3,304.9 L492.7,306.3 L493.1,305.2 L493.4,306.4 L493.8,308.4 L494.2,307.6 L494.6,308.9 L494.9,309.3 L495.3,308.8 L495.7,307.9 L496.1,311.2 L496.5,310.7 L497.0,311.8 L497.6,308.8 L498.1,309.5 L498.6,309.2 L499.2,310.9 L499.7,313.3 L500.3,313.0 L500.8,312.6 L501.3,313.1 L501.9,313.8 L502.5,312.5 L503.1,313.2 L503.7,312.8 L504.3,310.2 L504.9,312.1 L505.5,313.9 L506.1,311.9 L506.7,312.1 L507.1,311.8 L507.6,312.3 L508.1,314.5 L508.5,313.3 L509.0,312.9 L509.5,312.0 L509.9,314.2 L510.4,313.0 L510.8,313.5 L511.3,316.8 L511.8,317.1 L512.3,314.6 L512.8,317.9 L513.3,317.8 L513.8,316.8 L514.3,318.8 L514.8,316.5 L515.3,317.3 L515.8,317.4 L516.3,318.1 L516.8,320.6 L517.3,318.5 L517.8,318.9 L518.4,319.4 L518.9,320.8 L519.5,320.5 L520.1,322.0 L520.6,320.5 L521.2,320.1 L521.7,321.2 L522.3,322.0 L522.9,321.1 L523.4,322.7 L524.0,324.6 L524.5,322.2 L524.9,323.4 L525.3,325.2 L525.8,323.4 L526.2,323.6 L526.6,323.8 L527.0,325.9 L527.5,326.4 L527.9,326.1 L528.3,326.7 L528.7,328.5 L529.2,328.5 L529.6,326.4 L530.0,328.4 L530.4,328.9 L531.0,329.6 L531.6,328.5 L532.2,328.1 L532.8,328.3 L533.4,326.8 L534.0,328.7 L534.6,328.1 L535.2,329.3 L535.8,327.6 L536.4,328.3 L536.9,328.0 L537.4,328.3 L537.8,330.6 L538.3,329.7 L538.7,331.1 L539.2,329.8 L539.7,331.5 L540.1,330.0 L540.6,331.7 L541.0,332.1 L541.5,333.6 L541.9,333.6 L542.4,333.6 L542.8,335.1 L543.3,334.8 L543.7,335.6 L544.2,336.2 L544.6,335.7 L545.1,335.8 L545.6,336.9 L546.0,336.4 L546.5,337.7 L546.9,338.9 L547.4,339.0 L547.9,338.0 L548.3,337.4 L548.8,339.2 L549.3,339.4 L549.8,341.0 L550.4,339.6 L550.9,340.1 L551.5,341.4 L552.0,340.3 L552.5,340.9 L553.1,343.3 L553.6,343.3 L554.1,342.6 L554.7,342.5 L555.2,341.4 L555.8,343.3 L556.0,343.3 L556.3,344.0 L556.6,343.7 L556.9,344.8 L557.1,345.2 L557.4,346.3 L557.7,348.0 L558.0,347.4 L558.2,345.7 L558.5,347.0 L558.8,346.8 L559.1,348.2 L559.5,350.2 L559.8,350.5 L560.1,349.9 L560.4,351.4 L560.7,350.8 L561.1,350.6 L561.4,351.1 L561.7,352.2 L562.0,355.2 L562.3,352.7 L562.7,356.0 L563.0,356.6 L563.4,355.4 L563.8,356.0 L564.2,355.8 L564.5,357.0 L564.9,358.2 L565.3,357.9 L565.7,359.4 L566.1,360.1 L566.5,359.6 L566.9,360.1 L567.3,360.1 L567.7,361.0 L568.1,359.9 L568.5,361.9 L569.0,362.1 L569.4,361.3 L569.9,365.0 L570.4,361.9 L570.8,362.4 L571.3,364.1 L571.7,362.0 L572.2,363.7 L572.7,363.3 L573.1,364.3 L573.6,365.4 L574.2,366.0 L574.8,367.0 L575.4,366.8 L576.0,367.3 L576.6,366.7 L577.2,365.7 L577.8,367.5 L578.4,365.9 L578.9,365.6 L579.4,367.6 L579.9,366.5 L580.4,365.5 L580.9,365.8 L581.5,365.6 L582.0,362.8 L582.5,363.9 L583.0,362.4 L583.5,363.5 L584.0,362.3 L584.5,364.2 L585.1,363.1 L585.6,361.5 L586.2,362.2 L586.8,360.7 L587.4,361.9 L587.9,362.3 L588.5,361.8 L589.1,359.3 L589.7,360.8 L590.3,361.6 L590.7,361.8 L591.1,363.1 L591.5,360.9 L592.0,363.3 L592.4,362.4 L592.8,363.8 L593.2,364.4 L593.7,365.2 L594.1,364.2 L594.6,365.3 L595.2,363.9 L595.8,363.7 L596.4,366.0 L597.0,365.4 L597.6,363.8 L598.2,364.7 L598.8,365.8 L599.3,367.7 L599.6,367.6 L600.0,367.8 L600.4,365.4 L600.8,367.8 L601.2,368.9 L601.6,369.2 L601.9,369.7 L602.3,369.5 L602.7,372.1 L603.1,372.3 L603.6,370.8 L604.1,370.2 L604.7,373.8 L605.2,371.2 L605.7,373.5 L606.2,374.6 L606.7,371.7 L607.2,373.4 L607.6,373.2 L607.9,374.6 L608.3,374.9 L608.7,377.2 L609.0,376.1 L609.4,376.0 L609.7,377.7 L610.1,376.6 L610.4,377.0 L610.8,380.4 L611.2,377.5 L611.5,378.3 L611.9,379.4 L612.2,378.7 L612.6,378.0 L612.9,382.0 L613.3,380.4 L613.7,381.2 L614.0,381.8 L614.4,381.6 L614.8,382.0 L615.1,383.9 L615.5,386.6 L615.8,385.5 L616.2,385.9 L616.6,383.9 L616.9,386.0 L617.4,385.2 L617.8,387.8 L618.2,387.1 L618.6,387.8 L619.1,388.1 L619.5,388.0 L619.9,387.4 L620.3,390.1 L620.8,388.4 L621.2,389.0 L621.6,390.4 L622.1,390.3 L622.6,391.7 L623.1,392.8 L623.6,392.3 L624.1,392.6 L624.6,392.7 L625.1,394.0 L625.6,391.3 L626.1,394.1 L626.6,393.0 L626.9,393.2 L627.3,395.1 L627.6,395.1 L628.0,396.7 L628.3,397.7 L628.7,394.7 L629.0,397.4 L629.3,400.1 L629.7,399.4 L630.0,400.6 L630.4,399.6 L630.9,398.2 L631.5,398.7 L632.0,400.9 L632.6,401.3 L633.2,399.6 L633.8,400.3 L634.3,401.0 L634.9,399.0 L635.5,400.7 L636.1,403.0 L636.5,404.0 L636.9,401.9 L637.4,404.5 L637.8,402.3 L638.2,402.5 L638.6,401.4 L639.1,405.2 L639.5,404.2 L639.9,407.5 L640.3,405.8 L640.8,406.1 L641.3,404.2 L641.8,408.1 L642.3,406.3 L642.9,406.8 L643.4,404.9 L643.9,408.6 L644.5,408.9 L645.0,407.4 L645.6,408.4 L646.1,409.0 L646.6,409.9 L647.2,409.2 L647.7,411.3 L648.3,409.3 L648.9,409.1 L649.4,409.5 L650.0,407.8 L650.5,409.5 L651.1,411.7 L651.7,411.1 L652.2,410.1 L652.8,411.6 L653.4,409.3 L653.9,411.4 L654.4,412.6 L654.9,413.1 L655.4,411.8 L655.9,414.0 L656.4,415.4 L656.9,413.2 L657.4,414.8 L658.0,412.6 L658.5,412.5 L659.0,415.6 L659.5,415.3 L660.0,415.8 L660.5,415.2 L661.1,415.8 L661.6,417.2 L662.2,418.4 L662.7,416.5 L663.3,415.1 L663.9,418.6 L664.4,417.9 L664.9,417.7 L665.4,416.9 L666.0,418.8 L666.5,416.1 L667.0,416.3 L667.5,413.4 L668.0,414.5 L668.6,414.3 L669.1,415.2 L669.7,415.9 L670.2,414.9 L670.8,417.9 L671.3,415.0 L671.9,415.9 L672.4,416.9 L673.0,415.5 L673.6,417.5 L674.1,417.4 L674.7,416.2 L675.3,418.5 L675.9,416.3 L676.5,416.4 L677.1,414.9 L677.6,414.0 L678.1,414.8 L678.6,414.7 L679.0,414.1 L679.4,415.1 L679.8,411.4 L680.2,412.1 L680.6,410.9 L681.1,414.0 L681.5,411.4 L681.9,411.1 L682.2,409.9 L682.5,411.6 L682.7,409.6 L683.0,409.8 L683.3,406.7 L683.6,409.7 L683.8,408.3 L684.1,408.0 L684.4,408.2" stroke="#ff0080" stroke-width="4.3"/>
<path d="M104.4,378.3 L105.0,378.4 L105.6,379.3 L106.2,379.1 L106.8,378.6 L107.4,378.9 L108.0,378.5 L108.6,379.8 L109.2,380.1 L109.7,379.2 L110.3,381.2 L110.9,378.0 L111.5,379.5 L112.1,381.6 L112.6,379.6 L113.2,378.7 L113.8,381.9 L114.3,381.2 L114.9,379.6 L115.5,381.8 L116.0,380.2 L116.6,380.0 L117.2,381.4 L117.8,381.2 L118.3,380.8 L118.9,381.7 L119.5,381.2 L120.1,382.4 L120.7,382.2 L121.2,382.8 L121.8,381.4 L122.4,380.4 L123.0,380.2 L123.5,381.1 L124.1,382.7 L124.7,381.9 L125.3,380.2 L125.9,381.6 L126.4,379.4 L127.0,381.7 L127.6,380.4 L128.2,381.6 L128.8,381.6 L129.4,380.8 L130.0,381.5 L130.6,380.2 L131.2,381.2 L131.8,382.5 L132.4,383.8 L133.0,382.3 L133.5,381.6 L134.0,380.1 L134.4,381.8 L134.9,378.7 L135.4,379.2 L135.8,380.0 L136.3,378.0 L136.8,380.4 L137.3,379.6 L137.7,377.6 L138.2,378.0 L138.7,377.6 L139.2,377.8 L139.7,380.0 L140.2,380.6 L140.6,380.7 L141.1,380.9 L141.6,380.4 L142.1,381.7 L142.6,380.2 L143.1,382.0 L143.7,383.6 L144.3,383.6 L144.8,381.9 L145.4,382.2 L146.0,384.0 L146.6,384.6 L147.2,381.4 L147.8,382.6 L148.4,383.4 L148.9,384.6 L149.5,382.6 L150.1,384.2 L150.7,383.4 L151.3,386.0 L151.9,384.2 L152.5,383.7 L153.1,383.5 L153.7,384.9 L154.3,384.6 L154.9,382.8 L155.5,384.1 L156.1,382.6 L156.7,383.2 L157.3,382.7 L157.9,382.7 L158.5,383.3 L159.1,383.1 L159.7,384.6 L160.3,384.9 L160.9,383.9 L161.5,383.0 L162.1,385.0 L162.7,382.2 L163.3,382.3 L163.9,385.0 L164.5,385.0 L165.1,385.3 L165.7,384.2 L166.3,383.2 L166.9,384.0 L167.5,385.1 L168.1,383.8 L168.7,383.9 L169.3,383.2 L169.9,383.5 L170.5,385.4 L171.1,384.9 L171.7,383.2 L172.2,383.1 L172.8,383.5 L173.4,384.5 L174.0,382.7 L174.6,383.6 L175.2,381.4 L175.8,382.2 L176.4,383.8 L177.0,384.1 L177.5,382.0 L178.1,382.2 L178.7,383.7 L179.3,382.5 L179.9,382.3 L180.5,383.4 L181.1,383.1 L181.7,384.0 L182.3,383.7 L182.9,382.3 L183.5,382.7 L184.1,382.8 L184.7,381.5 L185.3,381.9 L185.9,383.9 L186.3,381.8 L186.8,384.8 L187.2,384.5 L187.6,384.4 L188.1,385.5 L188.5,385.9 L189.0,387.0 L189.4,385.8 L189.8,386.4 L190.3,386.7 L190.9,388.6 L191.4,387.4 L192.0,385.3 L192.5,385.7 L193.1,385.1 L193.6,385.6 L194.2,385.5 L194.7,387.5 L195.3,383.7 L195.8,386.9 L196.3,386.6 L196.8,385.7 L197.4,386.5 L197.9,386.5 L198.4,387.3 L198.9,388.6 L199.5,386.3 L200.0,389.5 L200.5,388.1 L201.0,390.3 L201.6,389.5 L202.1,390.5 L202.7,390.0 L203.2,390.8 L203.8,389.9 L204.4,389.3 L204.9,391.0 L205.5,391.2 L206.1,392.8 L206.6,388.9 L207.2,390.9 L207.7,392.4 L208.3,390.3 L208.9,391.5 L209.5,393.9 L210.1,393.3 L210.7,391.1 L211.3,393.4 L211.9,393.3 L212.5,392.9 L213.1,392.6 L213.6,392.6 L214.2,391.5 L214.8,392.0 L215.4,393.3 L216.0,392.6 L216.6,394.2 L217.2,391.9 L217.8,390.0 L218.4,391.7 L219.0,392.3 L219.5,392.7 L220.0,392.7 L220.6,392.1 L221.1,394.7 L221.6,392.8 L222.2,394.4 L222.7,393.7 L223.2,393.1 L223.8,396.0 L224.3,392.5 L224.9,393.7 L225.5,395.0 L226.1,394.1 L226.7,395.1 L227.3,394.2 L227.9,393.8 L228.5,396.4 L229.1,393.9 L229.7,393.9 L230.3,392.9 L230.9,393.2 L231.5,394.6 L232.1,394.4 L232.7,393.8 L233.3,393.1 L233.9,394.6 L234.5,392.2 L235.1,393.7 L235.7,393.8 L236.3,393.3 L236.9,394.4 L237.5,393.6 L238.1,393.5 L238.7,396.2 L239.3,395.2 L239.9,395.7 L240.5,394.6 L241.0,395.6 L241.6,395.4 L242.2,395.7 L242.8,396.6 L243.4,394.0 L244.0,394.3 L244.5,393.8 L245.1,391.6 L245.7,392.2 L246.3,393.5 L246.9,393.9 L247.5,392.6 L248.0,394.1 L248.6,394.1 L249.2,392.3 L249.8,394.0 L250.4,394.2 L251.0,392.9 L251.5,391.6 L252.1,394.1 L252.7,392.5 L253.3,392.4 L253.9,392.9 L254.5,392.3 L255.1,394.0 L255.7,393.8 L256.3,394.3 L256.9,393.7 L257.5,392.4 L258.1,393.1 L258.7,394.2 L259.3,393.1 L259.9,395.9 L260.4,393.6 L261.0,393.4 L261.6,395.3 L262.2,395.1 L262.7,394.5 L263.3,394.5 L263.9,395.3 L264.5,395.9 L265.0,396.0 L265.6,395.1 L266.2,395.9 L266.8,396.3 L267.4,396.1 L268.0,393.1 L268.6,394.4 L269.2,394.4 L269.8,394.9 L270.4,395.3 L271.0,396.0 L271.6,395.6 L272.2,394.8 L272.8,394.9 L273.4,396.6 L274.0,394.2 L274.6,395.0 L275.2,396.2 L275.8,394.9 L276.4,392.4 L276.9,394.7 L277.5,393.8 L278.1,394.0 L278.7,395.1 L279.3,394.4 L279.9,393.6 L280.5,394.6 L281.1,394.1 L281.7,393.6 L282.3,393.7 L282.9,393.6 L283.5,392.9 L284.0,392.7 L284.6,393.0 L285.2,392.0 L285.8,391.7 L286.4,394.4 L287.0,392.9 L287.6,393.2 L288.2,393.2 L288.8,393.4 L289.4,393.5 L290.0,393.6 L290.6,392.9 L291.2,394.7 L291.8,393.2 L292.4,395.0 L293.0,392.1 L293.5,393.0 L294.1,395.2 L294.7,394.1 L295.3,393.7 L295.9,394.8 L296.5,393.5 L297.1,394.7 L297.7,392.5 L298.3,394.2 L298.9,393.9 L299.5,395.1 L300.1,395.4 L300.7,393.6 L301.3,396.0 L301.9,393.7 L302.5,392.2 L303.1,392.0 L303.7,395.7 L304.3,394.0 L304.9,393.4 L305.5,393.3 L306.1,392.9 L306.7,395.3 L307.3,393.8 L307.9,395.6 L308.5,393.6 L309.1,391.6 L309.7,394.7 L310.3,393.5 L310.9,393.7 L311.5,395.5 L312.1,393.7 L312.7,395.2 L313.3,394.0 L313.9,393.3 L314.5,394.6 L315.1,393.5 L315.7,395.4 L316.3,395.1 L316.9,394.2 L317.5,394.7 L318.0,394.5 L318.6,393.4 L319.1,394.3 L319.7,392.9 L320.2,393.5 L320.7,391.6 L321.2,392.3 L321.7,392.3 L322.2,390.7 L322.7,390.8 L323.2,390.3 L323.7,391.3 L324.2,389.5 L324.7,390.3 L325.2,391.2 L325.8,389.9 L326.4,387.8 L327.0,389.3 L327.5,390.1 L328.1,388.6 L328.7,389.8 L329.3,389.1 L329.8,388.7 L330.4,387.9 L331.0,387.5 L331.6,387.6 L332.2,387.8 L332.7,388.4 L333.3,388.4 L333.9,387.8 L334.5,388.3 L335.1,388.7 L335.7,386.8 L336.3,387.8 L336.9,387.9 L337.5,388.6 L338.0,388.6 L338.6,388.7 L339.2,388.2 L339.8,389.7 L340.4,389.2 L341.0,387.1 L341.6,388.7 L342.2,387.4 L342.8,390.1 L343.4,387.9 L343.9,387.8 L344.5,388.2 L345.1,387.8 L345.7,387.8 L346.3,389.3 L346.9,388.0 L347.5,388.6 L348.1,389.0 L348.7,387.0 L349.3,389.7 L349.9,388.7 L350.5,389.1 L351.1,387.3 L351.7,389.0 L352.3,388.7 L352.9,387.8 L353.5,390.6 L354.1,388.9 L354.6,387.9 L355.2,388.1 L355.7,388.6 L356.3,388.6 L356.9,387.8 L357.4,388.3 L358.0,388.3 L358.5,385.4 L359.1,385.9 L359.7,385.3 L360.2,386.5 L360.8,388.1 L361.4,387.5 L361.9,385.9 L362.5,386.9 L363.1,388.4 L363.7,387.0 L364.2,387.6 L364.8,388.2 L365.4,386.3 L365.9,389.1 L366.5,388.8 L367.1,389.3 L367.7,387.9 L368.2,388.3 L368.8,388.4 L369.3,389.0 L369.9,388.6 L370.5,388.4 L371.0,389.9 L371.6,389.2 L372.1,386.9 L372.7,386.8 L373.2,388.9 L373.8,386.7 L374.4,388.1 L374.9,388.1 L375.5,385.8 L376.1,385.9 L376.7,386.2 L377.3,385.2 L377.9,385.0 L378.5,385.6 L379.1,386.8 L379.6,385.4 L380.2,385.6 L380.8,385.3 L381.4,384.3 L382.0,387.1 L382.6,383.3 L383.2,385.0 L383.8,386.4 L384.3,384.7 L384.9,386.9 L385.4,387.8 L386.0,386.0 L386.5,387.3 L387.1,386.2 L387.6,388.1 L388.2,387.9 L388.7,388.2 L389.3,389.6 L389.7,388.7 L390.1,389.1 L390.4,387.9 L390.7,385.5 L391.0,386.5 L391.4,386.2 L391.7,383.8 L392.0,386.1 L392.4,384.3 L392.7,384.1 L393.1,382.3 L393.4,382.8 L393.8,382.6 L394.1,381.5 L394.5,381.4 L394.8,378.7 L395.2,381.7 L395.5,379.1 L395.7,378.6 L396.0,380.4 L396.2,381.0 L396.5,383.0 L396.7,382.1 L397.0,383.8 L397.2,383.1 L397.5,386.8 L397.7,385.7 L397.9,387.7 L398.2,385.2 L398.5,387.4 L398.9,386.2 L399.3,388.2 L399.7,388.7 L400.1,386.9 L400.6,387.8 L401.0,388.2 L401.4,388.3 L401.8,389.5 L402.2,389.7 L402.6,389.7 L403.0,391.7 L403.4,392.6 L404.0,390.6 L404.6,391.2 L405.2,391.6 L405.8,391.2 L406.3,390.6 L406.9,392.0 L407.5,391.9 L408.1,391.6 L408.7,390.6 L409.3,392.7 L409.9,392.3 L410.4,390.0 L411.0,390.1 L411.6,391.2 L412.1,389.0 L412.7,390.0 L413.3,389.4 L413.8,388.5 L414.4,388.7 L415.0,387.2 L415.5,388.0 L416.1,386.4 L416.6,390.3 L417.2,389.4 L417.8,388.9 L418.4,388.0 L419.0,388.6 L419.6,388.9 L420.2,388.6 L420.8,388.4 L421.4,386.5 L422.0,387.8 L422.6,386.8 L423.2,386.2 L423.8,386.2 L424.4,387.7 L425.0,388.3 L425.6,385.8 L426.2,388.9 L426.7,388.7 L427.3,387.1 L427.8,387.3 L428.3,388.0 L428.9,389.3 L429.4,388.2 L429.9,387.8 L430.5,389.5 L431.0,387.4 L431.5,389.8 L432.1,391.1 L432.6,390.6 L433.2,391.1 L433.8,390.8 L434.4,391.1 L435.0,390.5 L435.6,389.6 L436.2,390.2 L436.8,390.4 L437.4,391.7 L438.0,392.1 L438.6,390.9 L439.2,389.8 L439.8,389.8 L440.4,390.4 L441.0,391.9 L441.6,390.7 L442.1,390.2 L442.7,389.3 L443.3,390.8 L443.9,390.1 L444.5,389.6 L445.1,389.6 L445.6,391.1 L446.2,389.1 L446.8,390.8 L447.4,390.2 L448.0,389.0 L448.6,389.9 L449.2,389.0 L449.8,388.3 L450.4,389.0 L451.0,388.4 L451.6,389.9 L452.2,389.4 L452.8,390.1 L453.4,390.4 L453.9,387.4 L454.5,390.0 L455.1,388.0 L455.7,390.0 L456.3,389.0 L456.9,390.1 L457.5,391.4 L458.1,388.3 L458.7,390.3 L459.3,390.1 L459.9,388.3 L460.5,390.9 L461.1,390.3 L461.7,389.8 L462.3,389.7 L462.9,392.6 L463.5,390.1 L464.1,388.7 L464.7,389.6 L465.3,390.3 L465.9,390.4 L466.5,390.8 L467.1,389.9 L467.7,391.7 L468.3,390.7 L468.8,390.0 L469.4,390.7 L470.0,391.2 L470.6,392.5 L471.2,392.3 L471.8,391.6 L472.4,392.1 L473.0,392.4 L473.5,394.4 L474.1,391.9 L474.7,393.1 L475.3,393.5 L475.9,392.0 L476.4,393.3 L477.0,393.4 L477.6,392.9 L478.2,394.1 L478.8,394.7 L479.4,394.9 L480.0,393.6 L480.6,394.0 L481.2,396.0 L481.8,392.7 L482.4,394.0 L483.0,394.7 L483.6,394.0 L484.2,394.5 L484.8,394.0 L485.4,394.6 L486.0,395.1 L486.6,393.6 L487.2,394.0 L487.8,393.7 L488.3,393.3 L488.9,393.5 L489.5,392.2 L490.1,394.0 L490.7,394.8 L491.2,394.6 L491.8,394.0 L492.4,391.6 L493.0,394.0 L493.6,391.6 L494.1,392.1 L494.7,393.8 L495.3,390.8 L495.9,392.6 L496.4,392.3 L497.0,392.1 L497.5,391.6 L498.1,393.1 L498.6,392.5 L499.2,394.2 L499.7,394.6 L500.3,392.2 L500.9,393.4 L501.4,393.8 L502.0,393.2 L502.5,393.5 L503.1,394.8 L503.7,394.6 L504.3,393.2 L504.9,394.4 L505.5,395.5 L506.1,393.9 L506.7,394.2 L507.3,396.8 L507.9,396.6 L508.4,393.7 L509.0,394.1 L509.6,395.9 L510.2,394.2 L510.8,395.0 L511.4,394.7 L512.0,395.5 L512.6,392.6 L513.1,392.5 L513.7,393.3 L514.3,395.4 L514.9,394.1 L515.5,392.4 L516.1,394.5 L516.6,394.6 L517.2,393.5 L517.8,393.2 L518.4,393.9 L519.0,394.5 L519.6,393.4 L520.2,393.7 L520.8,393.0 L521.4,392.6 L522.0,391.9 L522.5,393.0 L523.1,392.4 L523.7,392.3 L524.3,393.4 L524.9,392.9 L525.5,393.2 L526.1,390.6 L526.7,392.7 L527.3,391.4 L527.9,391.1 L528.5,390.9 L529.1,392.9 L529.7,392.4 L530.2,390.7 L530.8,390.2 L531.4,391.2 L532.0,390.6 L532.6,392.6 L533.2,389.4 L533.8,388.9 L534.4,390.4 L535.0,390.5 L535.5,390.5 L536.1,391.1 L536.7,392.4 L537.3,390.1 L537.9,389.9 L538.5,388.8 L539.1,390.9 L539.7,391.5 L540.3,390.5 L540.9,392.0 L541.5,390.9 L542.1,392.4 L542.7,391.3 L543.3,390.0 L543.9,390.5 L544.5,389.6 L545.1,389.4 L545.7,391.3 L546.3,391.8 L546.9,392.7 L547.4,390.6 L548.0,390.3 L548.6,389.3 L549.2,391.3 L549.8,390.6 L550.4,389.5 L551.0,390.6 L551.6,390.4 L552.1,387.8 L552.7,390.3 L553.3,389.6 L553.9,388.9 L554.5,388.7 L555.0,390.7 L555.6,390.3 L556.2,390.4 L556.8,387.2 L557.3,387.5 L557.9,388.9 L558.5,386.6 L559.0,386.8 L559.4,385.3 L559.8,388.5 L560.3,387.3 L560.7,386.3 L561.1,385.6 L561.5,384.6 L562.0,384.2 L562.4,384.7 L562.8,383.0 L563.2,384.5 L563.8,382.6 L564.4,382.1 L565.0,384.1 L565.5,382.5 L566.1,383.0 L566.7,381.9 L567.3,379.9 L567.8,382.5 L568.4,380.4 L569.0,382.7 L569.6,379.9 L570.2,379.5 L570.8,381.6 L571.4,381.7 L572.0,381.3 L572.6,379.9 L573.2,382.0 L573.8,379.5 L574.4,380.5 L574.9,380.1 L575.5,380.4 L576.1,381.6 L576.7,380.0 L577.3,381.1 L577.9,381.1 L578.5,378.6 L579.1,379.0 L579.7,379.7 L580.3,379.3 L580.9,380.1 L581.4,377.8 L582.0,380.3 L582.6,380.2 L583.2,379.2 L583.8,377.9 L584.4,379.2 L585.0,378.7 L585.6,379.7 L586.2,379.0 L586.8,379.8 L587.4,378.6 L588.0,380.4 L588.6,376.8 L589.2,377.9 L589.8,379.4 L590.4,377.3 L591.0,379.5 L591.6,377.6 L592.2,378.9 L592.8,377.9 L593.4,378.4 L594.0,379.0 L594.6,378.8 L595.2,378.5 L595.8,381.1 L596.4,378.9 L597.0,378.0 L597.6,379.9 L598.2,379.8 L598.8,380.2 L599.4,380.8 L600.0,378.0 L600.6,380.0 L601.2,380.0 L601.8,378.8 L602.4,379.0 L603.0,376.6 L603.6,378.1 L604.2,380.5 L604.8,376.9 L605.4,378.1 L606.0,378.9 L606.6,379.1 L607.2,380.1 L607.8,376.5 L608.3,378.1 L608.9,378.7 L609.4,376.4 L610.0,377.4 L610.6,379.2 L611.1,378.4 L611.7,377.4 L612.3,374.5 L612.8,376.3 L613.4,376.6 L614.0,375.7 L614.5,375.8 L615.1,377.8 L615.7,375.4 L616.3,374.8 L616.9,376.1 L617.5,375.6 L618.1,375.6 L618.7,375.9 L619.3,376.9 L619.9,376.4 L620.4,375.1 L621.0,376.2 L621.6,376.9 L622.2,375.6 L622.7,377.0 L623.2,376.3 L623.8,374.3 L624.3,375.3 L624.8,376.7 L625.4,376.0 L625.9,374.2 L626.5,374.8 L627.0,373.0 L627.5,371.9 L628.1,373.7 L628.6,373.2 L629.2,373.3 L629.8,372.6 L630.4,372.9 L631.0,371.9 L631.6,372.7 L632.1,372.9 L632.7,371.9 L633.3,372.6 L633.9,369.9 L634.5,370.7 L635.1,372.9 L635.7,373.3 L636.3,371.8 L636.9,371.4 L637.5,370.2 L638.1,371.9 L638.7,372.3 L639.3,370.0 L639.9,372.1 L640.5,372.0 L641.1,371.9 L641.7,370.4 L642.3,372.0 L642.9,370.0 L643.5,372.9 L644.1,371.5 L644.7,370.1 L645.3,372.6 L645.9,372.3 L646.5,370.5 L647.0,373.3 L647.6,370.0 L648.2,371.2 L648.8,372.1 L649.4,368.6 L650.0,371.8 L650.6,370.6 L651.2,370.6 L651.8,369.4 L652.4,370.7 L653.0,369.1 L653.6,369.1 L654.2,369.5 L654.8,368.6 L655.3,371.3 L655.9,368.3 L656.5,368.8 L657.1,369.1 L657.7,369.3 L658.3,370.0 L658.9,369.8 L659.4,368.5 L660.0,368.3 L660.6,368.5 L661.2,369.2 L661.7,368.9 L662.3,367.5 L662.9,365.8 L663.5,369.8 L664.1,368.4 L664.6,367.6 L665.2,367.5 L665.8,366.5 L666.4,365.8 L666.9,366.3 L667.5,366.4 L668.1,365.9 L668.7,365.0 L669.3,366.1 L669.9,367.0 L670.5,365.8 L671.1,366.3 L671.7,364.1 L672.3,365.9 L672.9,366.0 L673.5,364.8 L674.1,364.2 L674.7,366.3 L675.3,364.9 L675.9,366.1 L676.5,365.0 L677.0,365.9 L677.6,364.8 L678.2,363.5 L678.8,364.8 L679.4,364.4 L679.9,365.2 L680.5,364.0 L681.1,363.9 L681.7,364.9 L682.2,365.0 L682.8,364.4 L683.3,364.4 L683.9,363.6 L684.4,363.7 L685.0,363.6" stroke="#000" stroke-width="4.1"/>
</g>
<path d="M126.0,10.1 v8.5 M126.0,441.2 v-8.5 M170.7,10.1 v4.2 M170.7,441.2 v-4.2 M215.3,10.1 v4.2 M215.3,441.2 v-4.2 M260.0,10.1 v8.5 M260.0,441.2 v-8.5 M304.7,10.1 v4.2 M304.7,441.2 v-4.2 M349.3,10.1 v4.2 M349.3,441.2 v-4.2 M394.0,10.1 v8.5 M394.0,441.2 v-8.5 M438.7,10.1 v4.2 M438.7,441.2 v-4.2 M483.3,10.1 v4.2 M483.3,441.2 v-4.2 M528.0,10.1 v8.5 M528.0,441.2 v-8.5 M572.7,10.1 v4.2 M572.7,441.2 v-4.2 M617.3,10.1 v4.2 M617.3,441.2 v-4.2 M662.0,10.1 v8.5 M662.0,441.2 v-8.5 M104.1,420.5 h4.4 M684.0,420.5 h-4.4 M104.1,379.5 h8.8 M684.0,379.5 h-8.8 M104.1,338.5 h4.4 M684.0,338.5 h-4.4 M104.1,297.4 h4.4 M684.0,297.4 h-4.4 M104.1,256.4 h8.8 M684.0,256.4 h-8.8 M104.1,215.4 h4.4 M684.0,215.4 h-4.4 M104.1,174.3 h4.4 M684.0,174.3 h-4.4 M104.1,133.3 h8.8 M684.0,133.3 h-8.8 M104.1,92.3 h4.4 M684.0,92.3 h-4.4 M104.1,51.2 h4.4 M684.0,51.2 h-4.4" stroke="#000" stroke-width="1.5" fill="none"/>
<rect x="104.1" y="10.1" width="579.9" height="431.09999999999997" fill="none" stroke="#000" stroke-width="1.7"/>
<g font-family="'Liberation Sans', Arial, sans-serif" font-size="24" fill="#000" stroke="#000" stroke-width="0.25">
<text x="126.0" y="468.8" text-anchor="middle">-12</text>
<text x="260.0" y="468.8" text-anchor="middle">-6</text>
<text x="394.0" y="468.8" text-anchor="middle">0</text>
<text x="528.0" y="468.8" text-anchor="middle">6</text>
<text x="662.0" y="468.8" text-anchor="middle">12</text>
<text x="94.6" y="17.9" text-anchor="end">0.18</text>
<text x="94.6" y="141.0" text-anchor="end">0.12</text>
<text x="94.6" y="264.1" text-anchor="end">0.06</text>
<text x="94.6" y="387.2" text-anchor="end">0.00</text>
<text transform="translate(593.8,116.5) skewX(-12)" font-size="25">3</text>
<text transform="translate(590.7,315.0) skewX(-12)" font-size="25" font-family="'NanumGothic', 'Liberation Sans', sans-serif" stroke-width="0.75">1</text>
<text transform="translate(542.8,373.1) skewX(-12)" font-size="25">2</text>
<text transform="translate(502.2,426.1) skewX(-12)" font-size="25">4</text>
<text x="394.2" y="509.7" text-anchor="middle" font-size="26">B (T)</text>
<text transform="translate(19.4,213.3) rotate(-90)" text-anchor="middle" font-size="26"><tspan font-family="'Liberation Serif', 'DejaVu Serif', serif">Δα</tspan> (Np/cm)</text>
</g>
</svg>
</body></html>
